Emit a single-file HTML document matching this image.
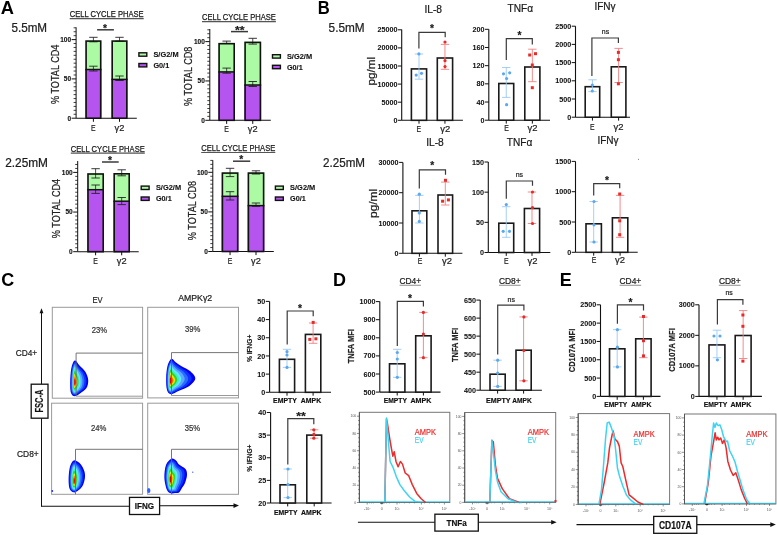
<!DOCTYPE html>
<html><head><meta charset="utf-8"><style>
html,body{margin:0;padding:0;background:#fff;width:777px;height:535px;overflow:hidden}
svg{display:block;will-change:transform}
text{font-family:"Liberation Sans", sans-serif}
</style></head><body>
<svg width="777" height="535" viewBox="0 0 777 535">
<defs><filter id="soft" x="-20%" y="-20%" width="140%" height="140%"><feGaussianBlur stdDeviation="0.35"/></filter></defs>
<rect x="0" y="0" width="777" height="535" fill="#fff"/>
<text x="0.70" y="13.90" font-size="18.5" text-anchor="start" fill="#000" font-weight="bold" textLength="13.2" lengthAdjust="spacingAndGlyphs" >A</text>
<text x="11.40" y="32.00" font-size="12.2" text-anchor="start" fill="#222" textLength="35.7" lengthAdjust="spacingAndGlyphs" stroke="#222" stroke-width="0.22" >5.5mM</text>
<text x="5.20" y="166.80" font-size="12.2" text-anchor="start" fill="#1a1a1a" textLength="42.8" lengthAdjust="spacingAndGlyphs" stroke="#1a1a1a" stroke-width="0.22" >2.25mM</text>
<text x="106.70" y="17.00" font-size="9.6" text-anchor="middle" fill="#1a1a1a" textLength="73.99999999999999" lengthAdjust="spacingAndGlyphs" stroke="#1a1a1a" stroke-width="0.25">CELL CYCLE PHASE</text>
<line x1="69.70" y1="18.60" x2="143.70" y2="18.60" stroke="#555" stroke-width="1.1" />
<line x1="76.10" y1="27.30" x2="76.10" y2="118.20" stroke="#111" stroke-width="1.0" />
<line x1="71.60" y1="118.20" x2="76.10" y2="118.20" stroke="#111" stroke-width="1.0" />
<text x="71.10" y="120.54" font-size="6.5" text-anchor="end" fill="#111" font-weight="bold" stroke="#111" stroke-width="0.12">0</text>
<line x1="71.60" y1="78.90" x2="76.10" y2="78.90" stroke="#111" stroke-width="1.0" />
<text x="71.10" y="81.24" font-size="6.5" text-anchor="end" fill="#111" font-weight="bold" stroke="#111" stroke-width="0.12">50</text>
<line x1="71.60" y1="39.60" x2="76.10" y2="39.60" stroke="#111" stroke-width="1.0" />
<text x="71.10" y="41.94" font-size="6.5" text-anchor="end" fill="#111" font-weight="bold" stroke="#111" stroke-width="0.12">100</text>
<line x1="73.60" y1="114.27" x2="76.10" y2="114.27" stroke="#111" stroke-width="0.8" />
<line x1="73.60" y1="110.34" x2="76.10" y2="110.34" stroke="#111" stroke-width="0.8" />
<line x1="73.60" y1="106.41" x2="76.10" y2="106.41" stroke="#111" stroke-width="0.8" />
<line x1="73.60" y1="102.48" x2="76.10" y2="102.48" stroke="#111" stroke-width="0.8" />
<line x1="73.60" y1="98.55" x2="76.10" y2="98.55" stroke="#111" stroke-width="0.8" />
<line x1="73.60" y1="94.62" x2="76.10" y2="94.62" stroke="#111" stroke-width="0.8" />
<line x1="73.60" y1="90.69" x2="76.10" y2="90.69" stroke="#111" stroke-width="0.8" />
<line x1="73.60" y1="86.76" x2="76.10" y2="86.76" stroke="#111" stroke-width="0.8" />
<line x1="73.60" y1="82.83" x2="76.10" y2="82.83" stroke="#111" stroke-width="0.8" />
<line x1="73.60" y1="74.97" x2="76.10" y2="74.97" stroke="#111" stroke-width="0.8" />
<line x1="73.60" y1="71.04" x2="76.10" y2="71.04" stroke="#111" stroke-width="0.8" />
<line x1="73.60" y1="67.11" x2="76.10" y2="67.11" stroke="#111" stroke-width="0.8" />
<line x1="73.60" y1="63.18" x2="76.10" y2="63.18" stroke="#111" stroke-width="0.8" />
<line x1="73.60" y1="59.25" x2="76.10" y2="59.25" stroke="#111" stroke-width="0.8" />
<line x1="73.60" y1="55.32" x2="76.10" y2="55.32" stroke="#111" stroke-width="0.8" />
<line x1="73.60" y1="51.39" x2="76.10" y2="51.39" stroke="#111" stroke-width="0.8" />
<line x1="73.60" y1="47.46" x2="76.10" y2="47.46" stroke="#111" stroke-width="0.8" />
<line x1="73.60" y1="43.53" x2="76.10" y2="43.53" stroke="#111" stroke-width="0.8" />
<line x1="73.60" y1="35.67" x2="76.10" y2="35.67" stroke="#111" stroke-width="0.8" />
<line x1="73.60" y1="31.74" x2="76.10" y2="31.74" stroke="#111" stroke-width="0.8" />
<line x1="73.60" y1="27.81" x2="76.10" y2="27.81" stroke="#111" stroke-width="0.8" />
<line x1="76.10" y1="118.20" x2="136.80" y2="118.20" stroke="#111" stroke-width="1.1" />
<rect x="85.30" y="69.50" width="16.20" height="48.70" fill="#b554ee" stroke="none" stroke-width="1.0" />
<rect x="85.30" y="40.30" width="16.20" height="29.20" fill="#adfaa5" stroke="none" stroke-width="1.0" />
<line x1="93.40" y1="37.30" x2="93.40" y2="41.80" stroke="#222" stroke-width="0.8" />
<line x1="89.20" y1="37.30" x2="97.60" y2="37.30" stroke="#222" stroke-width="0.9" />
<line x1="89.20" y1="41.80" x2="97.60" y2="41.80" stroke="#222" stroke-width="0.9" />
<line x1="93.40" y1="66.20" x2="93.40" y2="71.00" stroke="#222" stroke-width="0.8" />
<line x1="89.20" y1="66.20" x2="97.60" y2="66.20" stroke="#222" stroke-width="0.9" />
<line x1="89.20" y1="71.00" x2="97.60" y2="71.00" stroke="#222" stroke-width="0.9" />
<line x1="85.30" y1="69.50" x2="101.50" y2="69.50" stroke="#111" stroke-width="1.5" />
<rect x="86.10" y="41.10" width="14.60" height="77.10" fill="none" stroke="#111" stroke-width="1.6" />
<line x1="93.40" y1="118.20" x2="93.40" y2="121.80" stroke="#111" stroke-width="1" />
<text x="93.40" y="130.50" font-size="9.2" text-anchor="middle" fill="#222" textLength="4.6" lengthAdjust="spacingAndGlyphs" stroke="#222" stroke-width="0.22" >E</text>
<rect x="111.40" y="79.40" width="16.20" height="38.80" fill="#b554ee" stroke="none" stroke-width="1.0" />
<rect x="111.40" y="40.30" width="16.20" height="39.10" fill="#adfaa5" stroke="none" stroke-width="1.0" />
<line x1="119.50" y1="37.30" x2="119.50" y2="41.20" stroke="#222" stroke-width="0.8" />
<line x1="115.30" y1="37.30" x2="123.70" y2="37.30" stroke="#222" stroke-width="0.9" />
<line x1="115.30" y1="41.20" x2="123.70" y2="41.20" stroke="#222" stroke-width="0.9" />
<line x1="119.50" y1="76.00" x2="119.50" y2="80.50" stroke="#222" stroke-width="0.8" />
<line x1="115.30" y1="76.00" x2="123.70" y2="76.00" stroke="#222" stroke-width="0.9" />
<line x1="115.30" y1="80.50" x2="123.70" y2="80.50" stroke="#222" stroke-width="0.9" />
<line x1="111.40" y1="79.40" x2="127.60" y2="79.40" stroke="#111" stroke-width="1.5" />
<rect x="112.20" y="41.10" width="14.60" height="77.10" fill="none" stroke="#111" stroke-width="1.6" />
<line x1="119.50" y1="118.20" x2="119.50" y2="121.80" stroke="#111" stroke-width="1" />
<text x="119.50" y="130.50" font-size="9.2" text-anchor="middle" fill="#222" textLength="9.8" lengthAdjust="spacingAndGlyphs" stroke="#222" stroke-width="0.22" >γ2</text>
<text x="58.70" y="74.30" font-size="10.4" text-anchor="middle" fill="#222" textLength="59.4" lengthAdjust="spacingAndGlyphs" transform="rotate(-90 58.70 74.30)" stroke="#222" stroke-width="0.22" >% TOTAL CD4</text>
<line x1="97.10" y1="29.80" x2="113.90" y2="29.80" stroke="#3a3a3a" stroke-width="1.5" />
<text x="104.95" y="32.11" font-size="10.5" text-anchor="middle" fill="#1a1a1a" font-weight="bold" textLength="3.99" lengthAdjust="spacingAndGlyphs" stroke="#1a1a1a" stroke-width="0.18" >*</text>
<rect x="138.90" y="52.80" width="7.90" height="3.40" fill="#adfaa5" stroke="#111" stroke-width="1.4" />
<rect x="138.90" y="63.50" width="7.90" height="3.40" fill="#b554ee" stroke="#111" stroke-width="1.4" />
<text x="153.40" y="57.00" font-size="7.8" text-anchor="start" fill="#111" font-weight="bold" textLength="25.2" lengthAdjust="spacingAndGlyphs" stroke="#111" stroke-width="0.1">S/G2/M</text>
<text x="153.40" y="67.70" font-size="7.8" text-anchor="start" fill="#111" font-weight="bold" textLength="15.8" lengthAdjust="spacingAndGlyphs" stroke="#111" stroke-width="0.1">G0/1</text>
<text x="238.95" y="20.10" font-size="9.6" text-anchor="middle" fill="#1a1a1a" textLength="73.89999999999998" lengthAdjust="spacingAndGlyphs" stroke="#1a1a1a" stroke-width="0.25">CELL CYCLE PHASE</text>
<line x1="202.00" y1="21.60" x2="275.90" y2="21.60" stroke="#555" stroke-width="1.1" />
<line x1="209.80" y1="29.00" x2="209.80" y2="120.30" stroke="#111" stroke-width="1.0" />
<line x1="205.30" y1="120.30" x2="209.80" y2="120.30" stroke="#111" stroke-width="1.0" />
<text x="204.80" y="122.64" font-size="6.5" text-anchor="end" fill="#111" font-weight="bold" stroke="#111" stroke-width="0.12">0</text>
<line x1="205.30" y1="80.95" x2="209.80" y2="80.95" stroke="#111" stroke-width="1.0" />
<text x="204.80" y="83.29" font-size="6.5" text-anchor="end" fill="#111" font-weight="bold" stroke="#111" stroke-width="0.12">50</text>
<line x1="205.30" y1="41.60" x2="209.80" y2="41.60" stroke="#111" stroke-width="1.0" />
<text x="204.80" y="43.94" font-size="6.5" text-anchor="end" fill="#111" font-weight="bold" stroke="#111" stroke-width="0.12">100</text>
<line x1="207.30" y1="116.36" x2="209.80" y2="116.36" stroke="#111" stroke-width="0.8" />
<line x1="207.30" y1="112.43" x2="209.80" y2="112.43" stroke="#111" stroke-width="0.8" />
<line x1="207.30" y1="108.50" x2="209.80" y2="108.50" stroke="#111" stroke-width="0.8" />
<line x1="207.30" y1="104.56" x2="209.80" y2="104.56" stroke="#111" stroke-width="0.8" />
<line x1="207.30" y1="100.62" x2="209.80" y2="100.62" stroke="#111" stroke-width="0.8" />
<line x1="207.30" y1="96.69" x2="209.80" y2="96.69" stroke="#111" stroke-width="0.8" />
<line x1="207.30" y1="92.75" x2="209.80" y2="92.75" stroke="#111" stroke-width="0.8" />
<line x1="207.30" y1="88.82" x2="209.80" y2="88.82" stroke="#111" stroke-width="0.8" />
<line x1="207.30" y1="84.88" x2="209.80" y2="84.88" stroke="#111" stroke-width="0.8" />
<line x1="207.30" y1="77.02" x2="209.80" y2="77.02" stroke="#111" stroke-width="0.8" />
<line x1="207.30" y1="73.08" x2="209.80" y2="73.08" stroke="#111" stroke-width="0.8" />
<line x1="207.30" y1="69.15" x2="209.80" y2="69.15" stroke="#111" stroke-width="0.8" />
<line x1="207.30" y1="65.21" x2="209.80" y2="65.21" stroke="#111" stroke-width="0.8" />
<line x1="207.30" y1="61.28" x2="209.80" y2="61.28" stroke="#111" stroke-width="0.8" />
<line x1="207.30" y1="57.34" x2="209.80" y2="57.34" stroke="#111" stroke-width="0.8" />
<line x1="207.30" y1="53.41" x2="209.80" y2="53.41" stroke="#111" stroke-width="0.8" />
<line x1="207.30" y1="49.47" x2="209.80" y2="49.47" stroke="#111" stroke-width="0.8" />
<line x1="207.30" y1="45.54" x2="209.80" y2="45.54" stroke="#111" stroke-width="0.8" />
<line x1="207.30" y1="37.67" x2="209.80" y2="37.67" stroke="#111" stroke-width="0.8" />
<line x1="207.30" y1="33.73" x2="209.80" y2="33.73" stroke="#111" stroke-width="0.8" />
<line x1="207.30" y1="29.80" x2="209.80" y2="29.80" stroke="#111" stroke-width="0.8" />
<line x1="209.80" y1="120.30" x2="270.80" y2="120.30" stroke="#111" stroke-width="1.1" />
<rect x="218.30" y="71.90" width="16.70" height="48.40" fill="#b554ee" stroke="none" stroke-width="1.0" />
<rect x="218.30" y="42.90" width="16.70" height="29.00" fill="#adfaa5" stroke="none" stroke-width="1.0" />
<line x1="226.65" y1="41.10" x2="226.65" y2="43.40" stroke="#222" stroke-width="0.8" />
<line x1="222.45" y1="41.10" x2="230.85" y2="41.10" stroke="#222" stroke-width="0.9" />
<line x1="222.45" y1="43.40" x2="230.85" y2="43.40" stroke="#222" stroke-width="0.9" />
<line x1="226.65" y1="68.10" x2="226.65" y2="73.20" stroke="#222" stroke-width="0.8" />
<line x1="222.45" y1="68.10" x2="230.85" y2="68.10" stroke="#222" stroke-width="0.9" />
<line x1="222.45" y1="73.20" x2="230.85" y2="73.20" stroke="#222" stroke-width="0.9" />
<line x1="218.30" y1="71.90" x2="235.00" y2="71.90" stroke="#111" stroke-width="1.5" />
<rect x="219.10" y="43.70" width="15.10" height="76.60" fill="none" stroke="#111" stroke-width="1.6" />
<line x1="226.65" y1="120.30" x2="226.65" y2="123.90" stroke="#111" stroke-width="1" />
<text x="226.65" y="132.20" font-size="9.2" text-anchor="middle" fill="#222" textLength="4.6" lengthAdjust="spacingAndGlyphs" stroke="#222" stroke-width="0.22" >E</text>
<rect x="244.30" y="85.00" width="16.90" height="35.30" fill="#b554ee" stroke="none" stroke-width="1.0" />
<rect x="244.30" y="41.60" width="16.90" height="43.40" fill="#adfaa5" stroke="none" stroke-width="1.0" />
<line x1="252.75" y1="38.30" x2="252.75" y2="44.10" stroke="#222" stroke-width="0.8" />
<line x1="248.55" y1="38.30" x2="256.95" y2="38.30" stroke="#222" stroke-width="0.9" />
<line x1="248.55" y1="44.10" x2="256.95" y2="44.10" stroke="#222" stroke-width="0.9" />
<line x1="252.75" y1="81.50" x2="252.75" y2="86.50" stroke="#222" stroke-width="0.8" />
<line x1="248.55" y1="81.50" x2="256.95" y2="81.50" stroke="#222" stroke-width="0.9" />
<line x1="248.55" y1="86.50" x2="256.95" y2="86.50" stroke="#222" stroke-width="0.9" />
<line x1="244.30" y1="85.00" x2="261.20" y2="85.00" stroke="#111" stroke-width="1.5" />
<rect x="245.10" y="42.40" width="15.30" height="77.90" fill="none" stroke="#111" stroke-width="1.6" />
<line x1="252.75" y1="120.30" x2="252.75" y2="123.90" stroke="#111" stroke-width="1" />
<text x="252.75" y="132.20" font-size="9.2" text-anchor="middle" fill="#222" textLength="9.8" lengthAdjust="spacingAndGlyphs" stroke="#222" stroke-width="0.22" >γ2</text>
<text x="192.30" y="76.30" font-size="10.4" text-anchor="middle" fill="#222" textLength="59.4" lengthAdjust="spacingAndGlyphs" transform="rotate(-90 192.30 76.30)" stroke="#222" stroke-width="0.22" >% TOTAL CD8</text>
<line x1="231.00" y1="31.60" x2="248.00" y2="31.60" stroke="#3a3a3a" stroke-width="1.5" />
<text x="239.70" y="34.26" font-size="10.5" text-anchor="middle" fill="#1a1a1a" font-weight="bold" textLength="9.58" lengthAdjust="spacingAndGlyphs" stroke="#1a1a1a" stroke-width="0.18" >**</text>
<rect x="272.50" y="54.70" width="7.90" height="3.40" fill="#adfaa5" stroke="#111" stroke-width="1.4" />
<rect x="272.50" y="65.30" width="7.90" height="3.40" fill="#b554ee" stroke="#111" stroke-width="1.4" />
<text x="286.90" y="58.90" font-size="7.8" text-anchor="start" fill="#111" font-weight="bold" textLength="25.2" lengthAdjust="spacingAndGlyphs" stroke="#111" stroke-width="0.1">S/G2/M</text>
<text x="286.90" y="69.50" font-size="7.8" text-anchor="start" fill="#111" font-weight="bold" textLength="15.8" lengthAdjust="spacingAndGlyphs" stroke="#111" stroke-width="0.1">G0/1</text>
<text x="107.80" y="151.80" font-size="9.6" text-anchor="middle" fill="#1a1a1a" textLength="74.00000000000001" lengthAdjust="spacingAndGlyphs" stroke="#1a1a1a" stroke-width="0.25">CELL CYCLE PHASE</text>
<line x1="70.80" y1="153.10" x2="144.80" y2="153.10" stroke="#555" stroke-width="1.1" />
<line x1="77.70" y1="161.00" x2="77.70" y2="251.70" stroke="#111" stroke-width="1.0" />
<line x1="73.20" y1="251.70" x2="77.70" y2="251.70" stroke="#111" stroke-width="1.0" />
<text x="72.70" y="254.04" font-size="6.5" text-anchor="end" fill="#111" font-weight="bold" stroke="#111" stroke-width="0.12">0</text>
<line x1="73.20" y1="212.05" x2="77.70" y2="212.05" stroke="#111" stroke-width="1.0" />
<text x="72.70" y="214.39" font-size="6.5" text-anchor="end" fill="#111" font-weight="bold" stroke="#111" stroke-width="0.12">50</text>
<line x1="73.20" y1="172.40" x2="77.70" y2="172.40" stroke="#111" stroke-width="1.0" />
<text x="72.70" y="174.74" font-size="6.5" text-anchor="end" fill="#111" font-weight="bold" stroke="#111" stroke-width="0.12">100</text>
<line x1="75.20" y1="247.73" x2="77.70" y2="247.73" stroke="#111" stroke-width="0.8" />
<line x1="75.20" y1="243.77" x2="77.70" y2="243.77" stroke="#111" stroke-width="0.8" />
<line x1="75.20" y1="239.80" x2="77.70" y2="239.80" stroke="#111" stroke-width="0.8" />
<line x1="75.20" y1="235.84" x2="77.70" y2="235.84" stroke="#111" stroke-width="0.8" />
<line x1="75.20" y1="231.88" x2="77.70" y2="231.88" stroke="#111" stroke-width="0.8" />
<line x1="75.20" y1="227.91" x2="77.70" y2="227.91" stroke="#111" stroke-width="0.8" />
<line x1="75.20" y1="223.94" x2="77.70" y2="223.94" stroke="#111" stroke-width="0.8" />
<line x1="75.20" y1="219.98" x2="77.70" y2="219.98" stroke="#111" stroke-width="0.8" />
<line x1="75.20" y1="216.01" x2="77.70" y2="216.01" stroke="#111" stroke-width="0.8" />
<line x1="75.20" y1="208.09" x2="77.70" y2="208.09" stroke="#111" stroke-width="0.8" />
<line x1="75.20" y1="204.12" x2="77.70" y2="204.12" stroke="#111" stroke-width="0.8" />
<line x1="75.20" y1="200.16" x2="77.70" y2="200.16" stroke="#111" stroke-width="0.8" />
<line x1="75.20" y1="196.19" x2="77.70" y2="196.19" stroke="#111" stroke-width="0.8" />
<line x1="75.20" y1="192.22" x2="77.70" y2="192.22" stroke="#111" stroke-width="0.8" />
<line x1="75.20" y1="188.26" x2="77.70" y2="188.26" stroke="#111" stroke-width="0.8" />
<line x1="75.20" y1="184.30" x2="77.70" y2="184.30" stroke="#111" stroke-width="0.8" />
<line x1="75.20" y1="180.33" x2="77.70" y2="180.33" stroke="#111" stroke-width="0.8" />
<line x1="75.20" y1="176.37" x2="77.70" y2="176.37" stroke="#111" stroke-width="0.8" />
<line x1="75.20" y1="168.44" x2="77.70" y2="168.44" stroke="#111" stroke-width="0.8" />
<line x1="75.20" y1="164.47" x2="77.70" y2="164.47" stroke="#111" stroke-width="0.8" />
<line x1="77.70" y1="251.70" x2="138.70" y2="251.70" stroke="#111" stroke-width="1.1" />
<rect x="87.20" y="189.70" width="16.80" height="62.00" fill="#b554ee" stroke="none" stroke-width="1.0" />
<rect x="87.20" y="173.20" width="16.80" height="16.50" fill="#adfaa5" stroke="none" stroke-width="1.0" />
<line x1="95.60" y1="168.70" x2="95.60" y2="178.00" stroke="#222" stroke-width="0.8" />
<line x1="91.40" y1="168.70" x2="99.80" y2="168.70" stroke="#222" stroke-width="0.9" />
<line x1="91.40" y1="178.00" x2="99.80" y2="178.00" stroke="#222" stroke-width="0.9" />
<line x1="95.60" y1="185.00" x2="95.60" y2="193.40" stroke="#222" stroke-width="0.8" />
<line x1="91.40" y1="185.00" x2="99.80" y2="185.00" stroke="#222" stroke-width="0.9" />
<line x1="91.40" y1="193.40" x2="99.80" y2="193.40" stroke="#222" stroke-width="0.9" />
<line x1="87.20" y1="189.70" x2="104.00" y2="189.70" stroke="#111" stroke-width="1.5" />
<rect x="88.00" y="174.00" width="15.20" height="77.70" fill="none" stroke="#111" stroke-width="1.6" />
<line x1="95.60" y1="251.70" x2="95.60" y2="255.30" stroke="#111" stroke-width="1" />
<text x="95.60" y="264.20" font-size="9.2" text-anchor="middle" fill="#222" textLength="4.6" lengthAdjust="spacingAndGlyphs" stroke="#222" stroke-width="0.22" >E</text>
<rect x="113.40" y="201.20" width="16.60" height="50.50" fill="#b554ee" stroke="none" stroke-width="1.0" />
<rect x="113.40" y="173.00" width="16.60" height="28.20" fill="#adfaa5" stroke="none" stroke-width="1.0" />
<line x1="121.70" y1="169.80" x2="121.70" y2="175.80" stroke="#222" stroke-width="0.8" />
<line x1="117.50" y1="169.80" x2="125.90" y2="169.80" stroke="#222" stroke-width="0.9" />
<line x1="117.50" y1="175.80" x2="125.90" y2="175.80" stroke="#222" stroke-width="0.9" />
<line x1="121.70" y1="197.50" x2="121.70" y2="204.60" stroke="#222" stroke-width="0.8" />
<line x1="117.50" y1="197.50" x2="125.90" y2="197.50" stroke="#222" stroke-width="0.9" />
<line x1="117.50" y1="204.60" x2="125.90" y2="204.60" stroke="#222" stroke-width="0.9" />
<line x1="113.40" y1="201.20" x2="130.00" y2="201.20" stroke="#111" stroke-width="1.5" />
<rect x="114.20" y="173.80" width="15.00" height="77.90" fill="none" stroke="#111" stroke-width="1.6" />
<line x1="121.70" y1="251.70" x2="121.70" y2="255.30" stroke="#111" stroke-width="1" />
<text x="121.70" y="264.20" font-size="9.2" text-anchor="middle" fill="#222" textLength="9.8" lengthAdjust="spacingAndGlyphs" stroke="#222" stroke-width="0.22" >γ2</text>
<text x="60.30" y="208.50" font-size="10.4" text-anchor="middle" fill="#222" textLength="59.4" lengthAdjust="spacingAndGlyphs" transform="rotate(-90 60.30 208.50)" stroke="#222" stroke-width="0.22" >% TOTAL CD4</text>
<line x1="102.00" y1="162.00" x2="118.70" y2="162.00" stroke="#3a3a3a" stroke-width="1.5" />
<text x="110.00" y="164.15" font-size="10.5" text-anchor="middle" fill="#1a1a1a" font-weight="bold" textLength="3.99" lengthAdjust="spacingAndGlyphs" stroke="#1a1a1a" stroke-width="0.18" >*</text>
<rect x="141.20" y="186.10" width="7.90" height="3.40" fill="#adfaa5" stroke="#111" stroke-width="1.4" />
<rect x="141.20" y="197.00" width="7.90" height="3.40" fill="#b554ee" stroke="#111" stroke-width="1.4" />
<text x="155.90" y="190.30" font-size="7.8" text-anchor="start" fill="#111" font-weight="bold" textLength="25.2" lengthAdjust="spacingAndGlyphs" stroke="#111" stroke-width="0.1">S/G2/M</text>
<text x="155.90" y="201.20" font-size="7.8" text-anchor="start" fill="#111" font-weight="bold" textLength="15.8" lengthAdjust="spacingAndGlyphs" stroke="#111" stroke-width="0.1">G0/1</text>
<text x="238.25" y="151.00" font-size="9.6" text-anchor="middle" fill="#1a1a1a" textLength="74.10000000000002" lengthAdjust="spacingAndGlyphs" stroke="#1a1a1a" stroke-width="0.25">CELL CYCLE PHASE</text>
<line x1="201.20" y1="152.50" x2="275.30" y2="152.50" stroke="#555" stroke-width="1.1" />
<line x1="212.80" y1="160.20" x2="212.80" y2="251.50" stroke="#111" stroke-width="1.0" />
<line x1="208.30" y1="251.50" x2="212.80" y2="251.50" stroke="#111" stroke-width="1.0" />
<text x="207.80" y="253.84" font-size="6.5" text-anchor="end" fill="#111" font-weight="bold" stroke="#111" stroke-width="0.12">0</text>
<line x1="208.30" y1="211.90" x2="212.80" y2="211.90" stroke="#111" stroke-width="1.0" />
<text x="207.80" y="214.24" font-size="6.5" text-anchor="end" fill="#111" font-weight="bold" stroke="#111" stroke-width="0.12">50</text>
<line x1="208.30" y1="172.30" x2="212.80" y2="172.30" stroke="#111" stroke-width="1.0" />
<text x="207.80" y="174.64" font-size="6.5" text-anchor="end" fill="#111" font-weight="bold" stroke="#111" stroke-width="0.12">100</text>
<line x1="210.30" y1="247.54" x2="212.80" y2="247.54" stroke="#111" stroke-width="0.8" />
<line x1="210.30" y1="243.58" x2="212.80" y2="243.58" stroke="#111" stroke-width="0.8" />
<line x1="210.30" y1="239.62" x2="212.80" y2="239.62" stroke="#111" stroke-width="0.8" />
<line x1="210.30" y1="235.66" x2="212.80" y2="235.66" stroke="#111" stroke-width="0.8" />
<line x1="210.30" y1="231.70" x2="212.80" y2="231.70" stroke="#111" stroke-width="0.8" />
<line x1="210.30" y1="227.74" x2="212.80" y2="227.74" stroke="#111" stroke-width="0.8" />
<line x1="210.30" y1="223.78" x2="212.80" y2="223.78" stroke="#111" stroke-width="0.8" />
<line x1="210.30" y1="219.82" x2="212.80" y2="219.82" stroke="#111" stroke-width="0.8" />
<line x1="210.30" y1="215.86" x2="212.80" y2="215.86" stroke="#111" stroke-width="0.8" />
<line x1="210.30" y1="207.94" x2="212.80" y2="207.94" stroke="#111" stroke-width="0.8" />
<line x1="210.30" y1="203.98" x2="212.80" y2="203.98" stroke="#111" stroke-width="0.8" />
<line x1="210.30" y1="200.02" x2="212.80" y2="200.02" stroke="#111" stroke-width="0.8" />
<line x1="210.30" y1="196.06" x2="212.80" y2="196.06" stroke="#111" stroke-width="0.8" />
<line x1="210.30" y1="192.10" x2="212.80" y2="192.10" stroke="#111" stroke-width="0.8" />
<line x1="210.30" y1="188.14" x2="212.80" y2="188.14" stroke="#111" stroke-width="0.8" />
<line x1="210.30" y1="184.18" x2="212.80" y2="184.18" stroke="#111" stroke-width="0.8" />
<line x1="210.30" y1="180.22" x2="212.80" y2="180.22" stroke="#111" stroke-width="0.8" />
<line x1="210.30" y1="176.26" x2="212.80" y2="176.26" stroke="#111" stroke-width="0.8" />
<line x1="210.30" y1="168.34" x2="212.80" y2="168.34" stroke="#111" stroke-width="0.8" />
<line x1="210.30" y1="164.38" x2="212.80" y2="164.38" stroke="#111" stroke-width="0.8" />
<line x1="210.30" y1="160.42" x2="212.80" y2="160.42" stroke="#111" stroke-width="0.8" />
<line x1="212.80" y1="251.50" x2="273.80" y2="251.50" stroke="#111" stroke-width="1.1" />
<rect x="221.60" y="196.30" width="16.90" height="55.20" fill="#b554ee" stroke="none" stroke-width="1.0" />
<rect x="221.60" y="172.30" width="16.90" height="24.00" fill="#adfaa5" stroke="none" stroke-width="1.0" />
<line x1="230.05" y1="168.30" x2="230.05" y2="176.60" stroke="#222" stroke-width="0.8" />
<line x1="225.85" y1="168.30" x2="234.25" y2="168.30" stroke="#222" stroke-width="0.9" />
<line x1="225.85" y1="176.60" x2="234.25" y2="176.60" stroke="#222" stroke-width="0.9" />
<line x1="230.05" y1="191.70" x2="230.05" y2="200.00" stroke="#222" stroke-width="0.8" />
<line x1="225.85" y1="191.70" x2="234.25" y2="191.70" stroke="#222" stroke-width="0.9" />
<line x1="225.85" y1="200.00" x2="234.25" y2="200.00" stroke="#222" stroke-width="0.9" />
<line x1="221.60" y1="196.30" x2="238.50" y2="196.30" stroke="#111" stroke-width="1.5" />
<rect x="222.40" y="173.10" width="15.30" height="78.40" fill="none" stroke="#111" stroke-width="1.6" />
<line x1="230.05" y1="251.50" x2="230.05" y2="255.10" stroke="#111" stroke-width="1" />
<text x="230.05" y="263.70" font-size="9.2" text-anchor="middle" fill="#222" textLength="4.6" lengthAdjust="spacingAndGlyphs" stroke="#222" stroke-width="0.22" >E</text>
<rect x="247.60" y="205.60" width="16.80" height="45.90" fill="#b554ee" stroke="none" stroke-width="1.0" />
<rect x="247.60" y="172.30" width="16.80" height="33.30" fill="#adfaa5" stroke="none" stroke-width="1.0" />
<line x1="256.00" y1="170.80" x2="256.00" y2="174.00" stroke="#222" stroke-width="0.8" />
<line x1="251.80" y1="170.80" x2="260.20" y2="170.80" stroke="#222" stroke-width="0.9" />
<line x1="251.80" y1="174.00" x2="260.20" y2="174.00" stroke="#222" stroke-width="0.9" />
<line x1="256.00" y1="203.00" x2="256.00" y2="206.30" stroke="#222" stroke-width="0.8" />
<line x1="251.80" y1="203.00" x2="260.20" y2="203.00" stroke="#222" stroke-width="0.9" />
<line x1="251.80" y1="206.30" x2="260.20" y2="206.30" stroke="#222" stroke-width="0.9" />
<line x1="247.60" y1="205.60" x2="264.40" y2="205.60" stroke="#111" stroke-width="1.5" />
<rect x="248.40" y="173.10" width="15.20" height="78.40" fill="none" stroke="#111" stroke-width="1.6" />
<line x1="256.00" y1="251.50" x2="256.00" y2="255.10" stroke="#111" stroke-width="1" />
<text x="256.00" y="263.70" font-size="9.2" text-anchor="middle" fill="#222" textLength="9.8" lengthAdjust="spacingAndGlyphs" stroke="#222" stroke-width="0.22" >γ2</text>
<text x="195.50" y="210.50" font-size="10.4" text-anchor="middle" fill="#222" textLength="59.4" lengthAdjust="spacingAndGlyphs" transform="rotate(-90 195.50 210.50)" stroke="#222" stroke-width="0.22" >% TOTAL CD8</text>
<line x1="233.00" y1="161.20" x2="250.20" y2="161.20" stroke="#3a3a3a" stroke-width="1.5" />
<text x="241.30" y="163.45" font-size="10.5" text-anchor="middle" fill="#1a1a1a" font-weight="bold" textLength="3.99" lengthAdjust="spacingAndGlyphs" stroke="#1a1a1a" stroke-width="0.18" >*</text>
<rect x="275.40" y="186.10" width="7.90" height="3.40" fill="#adfaa5" stroke="#111" stroke-width="1.4" />
<rect x="275.40" y="197.00" width="7.90" height="3.40" fill="#b554ee" stroke="#111" stroke-width="1.4" />
<text x="290.10" y="190.30" font-size="7.8" text-anchor="start" fill="#111" font-weight="bold" textLength="25.2" lengthAdjust="spacingAndGlyphs" stroke="#111" stroke-width="0.1">S/G2/M</text>
<text x="290.10" y="201.20" font-size="7.8" text-anchor="start" fill="#111" font-weight="bold" textLength="15.8" lengthAdjust="spacingAndGlyphs" stroke="#111" stroke-width="0.1">G0/1</text>
<text x="317.70" y="13.90" font-size="18.5" text-anchor="start" fill="#000" font-weight="bold" textLength="12" lengthAdjust="spacingAndGlyphs" >B</text>
<text x="328.60" y="32.00" font-size="12.2" text-anchor="start" fill="#222" textLength="36" lengthAdjust="spacingAndGlyphs" stroke="#222" stroke-width="0.22" >5.5mM</text>
<text x="323.00" y="167.00" font-size="12.2" text-anchor="start" fill="#222" textLength="42" lengthAdjust="spacingAndGlyphs" stroke="#222" stroke-width="0.22" >2.25mM</text>
<line x1="401.70" y1="29.50" x2="401.70" y2="120.30" stroke="#111" stroke-width="1.1" />
<line x1="401.70" y1="120.30" x2="462.90" y2="120.30" stroke="#111" stroke-width="1.1" />
<line x1="397.90" y1="120.30" x2="401.70" y2="120.30" stroke="#111" stroke-width="1.0" />
<text x="397.40" y="122.89" font-size="7.2" text-anchor="end" fill="#111" font-weight="bold" stroke="#111" stroke-width="0.05">0</text>
<line x1="397.90" y1="102.20" x2="401.70" y2="102.20" stroke="#111" stroke-width="1.0" />
<text x="397.40" y="104.79" font-size="7.2" text-anchor="end" fill="#111" font-weight="bold" stroke="#111" stroke-width="0.05">5000</text>
<line x1="397.90" y1="84.10" x2="401.70" y2="84.10" stroke="#111" stroke-width="1.0" />
<text x="397.40" y="86.69" font-size="7.2" text-anchor="end" fill="#111" font-weight="bold" stroke="#111" stroke-width="0.05">10000</text>
<line x1="397.90" y1="66.00" x2="401.70" y2="66.00" stroke="#111" stroke-width="1.0" />
<text x="397.40" y="68.59" font-size="7.2" text-anchor="end" fill="#111" font-weight="bold" stroke="#111" stroke-width="0.05">15000</text>
<line x1="397.90" y1="47.90" x2="401.70" y2="47.90" stroke="#111" stroke-width="1.0" />
<text x="397.40" y="50.49" font-size="7.2" text-anchor="end" fill="#111" font-weight="bold" stroke="#111" stroke-width="0.05">20000</text>
<line x1="397.90" y1="29.80" x2="401.70" y2="29.80" stroke="#111" stroke-width="1.0" />
<text x="397.40" y="32.39" font-size="7.2" text-anchor="end" fill="#111" font-weight="bold" stroke="#111" stroke-width="0.05">25000</text>
<rect x="411.40" y="68.90" width="15.20" height="51.40" fill="#fff" stroke="#1a1a1a" stroke-width="1.6" />
<line x1="419.00" y1="120.30" x2="419.00" y2="123.70" stroke="#111" stroke-width="1" />
<line x1="419.00" y1="54.00" x2="419.00" y2="79.20" stroke="#9ccaf5" stroke-width="0.9" />
<line x1="414.80" y1="54.00" x2="423.20" y2="54.00" stroke="#9ccaf5" stroke-width="0.9" />
<line x1="414.80" y1="79.20" x2="423.20" y2="79.20" stroke="#9ccaf5" stroke-width="0.9" />
<circle cx="418.90" cy="53.90" r="1.6" fill="#5aa9f0"/>
<circle cx="416.20" cy="75.10" r="1.6" fill="#5aa9f0"/>
<circle cx="421.50" cy="73.30" r="1.6" fill="#5aa9f0"/>
<rect x="437.30" y="58.00" width="15.30" height="62.30" fill="#fff" stroke="#1a1a1a" stroke-width="1.6" />
<line x1="444.95" y1="120.30" x2="444.95" y2="123.70" stroke="#111" stroke-width="1" />
<line x1="444.95" y1="44.40" x2="444.95" y2="69.30" stroke="#f08080" stroke-width="0.9" />
<line x1="440.75" y1="44.40" x2="449.15" y2="44.40" stroke="#f08080" stroke-width="0.9" />
<line x1="440.75" y1="69.30" x2="449.15" y2="69.30" stroke="#f08080" stroke-width="0.9" />
<circle cx="445.00" cy="42.10" r="1.6" fill="#e82a2a"/>
<circle cx="445.00" cy="60.70" r="1.6" fill="#e82a2a"/>
<circle cx="445.00" cy="66.60" r="1.6" fill="#e82a2a"/>
<polyline points="418.9,48.4 418.9,32.3 445.2,32.3 445.2,37.2" fill="none" stroke="#3a3a3a" stroke-width="1.2"/>
<text x="432.10" y="31.66" font-size="10.5" text-anchor="middle" fill="#1a1a1a" font-weight="bold" textLength="3.99" lengthAdjust="spacingAndGlyphs" stroke="#1a1a1a" stroke-width="0.18" >*</text>
<text x="418.70" y="131.50" font-size="9.2" text-anchor="middle" fill="#222" textLength="4.6" lengthAdjust="spacingAndGlyphs" stroke="#222" stroke-width="0.22" >E</text>
<text x="445.30" y="131.50" font-size="9.2" text-anchor="middle" fill="#222" textLength="10" lengthAdjust="spacingAndGlyphs" stroke="#222" stroke-width="0.22" >γ2</text>
<text x="433.20" y="12.90" font-size="10.7" text-anchor="middle" fill="#1a1a1a" textLength="17.6" lengthAdjust="spacingAndGlyphs" stroke="#1a1a1a" stroke-width="0.22" >IL-8</text>
<text x="375.20" y="71.20" font-size="11" text-anchor="middle" fill="#222" textLength="28.8" lengthAdjust="spacingAndGlyphs" transform="rotate(-90 375.20 71.20)" stroke="#222" stroke-width="0.22" >pg/ml</text>
<line x1="488.80" y1="29.30" x2="488.80" y2="120.20" stroke="#111" stroke-width="1.1" />
<line x1="488.80" y1="120.20" x2="550.00" y2="120.20" stroke="#111" stroke-width="1.1" />
<line x1="485.00" y1="120.20" x2="488.80" y2="120.20" stroke="#111" stroke-width="1.0" />
<text x="484.50" y="122.79" font-size="7.2" text-anchor="end" fill="#111" font-weight="bold" stroke="#111" stroke-width="0.05">0</text>
<line x1="485.00" y1="102.02" x2="488.80" y2="102.02" stroke="#111" stroke-width="1.0" />
<text x="484.50" y="104.61" font-size="7.2" text-anchor="end" fill="#111" font-weight="bold" stroke="#111" stroke-width="0.05">40</text>
<line x1="485.00" y1="83.84" x2="488.80" y2="83.84" stroke="#111" stroke-width="1.0" />
<text x="484.50" y="86.43" font-size="7.2" text-anchor="end" fill="#111" font-weight="bold" stroke="#111" stroke-width="0.05">80</text>
<line x1="485.00" y1="65.66" x2="488.80" y2="65.66" stroke="#111" stroke-width="1.0" />
<text x="484.50" y="68.25" font-size="7.2" text-anchor="end" fill="#111" font-weight="bold" stroke="#111" stroke-width="0.05">120</text>
<line x1="485.00" y1="47.48" x2="488.80" y2="47.48" stroke="#111" stroke-width="1.0" />
<text x="484.50" y="50.07" font-size="7.2" text-anchor="end" fill="#111" font-weight="bold" stroke="#111" stroke-width="0.05">160</text>
<line x1="485.00" y1="29.30" x2="488.80" y2="29.30" stroke="#111" stroke-width="1.0" />
<text x="484.50" y="31.89" font-size="7.2" text-anchor="end" fill="#111" font-weight="bold" stroke="#111" stroke-width="0.05">200</text>
<rect x="498.80" y="83.50" width="14.90" height="36.70" fill="#fff" stroke="#1a1a1a" stroke-width="1.6" />
<line x1="506.25" y1="120.20" x2="506.25" y2="123.60" stroke="#111" stroke-width="1" />
<line x1="506.25" y1="67.50" x2="506.25" y2="97.40" stroke="#9ccaf5" stroke-width="0.9" />
<line x1="502.05" y1="67.50" x2="510.45" y2="67.50" stroke="#9ccaf5" stroke-width="0.9" />
<line x1="502.05" y1="97.40" x2="510.45" y2="97.40" stroke="#9ccaf5" stroke-width="0.9" />
<circle cx="503.50" cy="73.80" r="1.6" fill="#5aa9f0"/>
<circle cx="509.70" cy="72.80" r="1.6" fill="#5aa9f0"/>
<circle cx="506.60" cy="78.50" r="1.6" fill="#5aa9f0"/>
<circle cx="506.60" cy="104.70" r="1.6" fill="#5aa9f0"/>
<rect x="524.80" y="67.00" width="15.10" height="53.20" fill="#fff" stroke="#1a1a1a" stroke-width="1.6" />
<line x1="532.35" y1="120.20" x2="532.35" y2="123.60" stroke="#111" stroke-width="1" />
<line x1="532.35" y1="49.20" x2="532.35" y2="81.70" stroke="#f08080" stroke-width="0.9" />
<line x1="528.15" y1="49.20" x2="536.55" y2="49.20" stroke="#f08080" stroke-width="0.9" />
<line x1="528.15" y1="81.70" x2="536.55" y2="81.70" stroke="#f08080" stroke-width="0.9" />
<rect x="528.20" y="53.50" width="3.00" height="3.00" fill="#e82a2a" stroke="none" stroke-width="1.0" />
<rect x="534.00" y="52.20" width="3.00" height="3.00" fill="#e82a2a" stroke="none" stroke-width="1.0" />
<rect x="530.80" y="63.50" width="3.00" height="3.00" fill="#e82a2a" stroke="none" stroke-width="1.0" />
<rect x="530.80" y="86.20" width="3.00" height="3.00" fill="#e82a2a" stroke="none" stroke-width="1.0" />
<polyline points="506.3,60 506.3,38.7 532.3,38.7 532.3,44.5" fill="none" stroke="#3a3a3a" stroke-width="1.2"/>
<text x="519.60" y="39.06" font-size="10.5" text-anchor="middle" fill="#1a1a1a" font-weight="bold" textLength="3.99" lengthAdjust="spacingAndGlyphs" stroke="#1a1a1a" stroke-width="0.18" >*</text>
<text x="506.60" y="130.50" font-size="9.2" text-anchor="middle" fill="#222" textLength="4.6" lengthAdjust="spacingAndGlyphs" stroke="#222" stroke-width="0.22" >E</text>
<text x="532.50" y="130.50" font-size="9.2" text-anchor="middle" fill="#222" textLength="10" lengthAdjust="spacingAndGlyphs" stroke="#222" stroke-width="0.22" >γ2</text>
<text x="520.30" y="11.85" font-size="10.7" text-anchor="middle" fill="#1a1a1a" textLength="25.5" lengthAdjust="spacingAndGlyphs" stroke="#1a1a1a" stroke-width="0.22" >TNFα</text>
<line x1="575.50" y1="26.20" x2="575.50" y2="117.20" stroke="#111" stroke-width="1.1" />
<line x1="575.50" y1="117.20" x2="630.00" y2="117.20" stroke="#111" stroke-width="1.1" />
<line x1="571.70" y1="117.20" x2="575.50" y2="117.20" stroke="#111" stroke-width="1.0" />
<text x="571.20" y="119.79" font-size="7.2" text-anchor="end" fill="#111" font-weight="bold" stroke="#111" stroke-width="0.05">0</text>
<line x1="571.70" y1="99.00" x2="575.50" y2="99.00" stroke="#111" stroke-width="1.0" />
<text x="571.20" y="101.59" font-size="7.2" text-anchor="end" fill="#111" font-weight="bold" stroke="#111" stroke-width="0.05">500</text>
<line x1="571.70" y1="80.80" x2="575.50" y2="80.80" stroke="#111" stroke-width="1.0" />
<text x="571.20" y="83.39" font-size="7.2" text-anchor="end" fill="#111" font-weight="bold" stroke="#111" stroke-width="0.05">1000</text>
<line x1="571.70" y1="62.60" x2="575.50" y2="62.60" stroke="#111" stroke-width="1.0" />
<text x="571.20" y="65.19" font-size="7.2" text-anchor="end" fill="#111" font-weight="bold" stroke="#111" stroke-width="0.05">1500</text>
<line x1="571.70" y1="44.40" x2="575.50" y2="44.40" stroke="#111" stroke-width="1.0" />
<text x="571.20" y="46.99" font-size="7.2" text-anchor="end" fill="#111" font-weight="bold" stroke="#111" stroke-width="0.05">2000</text>
<line x1="571.70" y1="26.20" x2="575.50" y2="26.20" stroke="#111" stroke-width="1.0" />
<text x="571.20" y="28.79" font-size="7.2" text-anchor="end" fill="#111" font-weight="bold" stroke="#111" stroke-width="0.05">2500</text>
<rect x="585.20" y="86.70" width="14.50" height="30.50" fill="#fff" stroke="#1a1a1a" stroke-width="1.6" />
<line x1="592.45" y1="117.20" x2="592.45" y2="120.60" stroke="#111" stroke-width="1" />
<line x1="592.45" y1="79.80" x2="592.45" y2="91.60" stroke="#9ccaf5" stroke-width="0.9" />
<line x1="588.25" y1="79.80" x2="596.65" y2="79.80" stroke="#9ccaf5" stroke-width="0.9" />
<line x1="588.25" y1="91.60" x2="596.65" y2="91.60" stroke="#9ccaf5" stroke-width="0.9" />
<circle cx="592.30" cy="85.00" r="1.6" fill="#5aa9f0"/>
<circle cx="592.30" cy="91.00" r="1.6" fill="#5aa9f0"/>
<rect x="611.30" y="66.80" width="14.60" height="50.40" fill="#fff" stroke="#1a1a1a" stroke-width="1.6" />
<line x1="618.60" y1="117.20" x2="618.60" y2="120.60" stroke="#111" stroke-width="1" />
<line x1="618.60" y1="48.40" x2="618.60" y2="82.50" stroke="#f08080" stroke-width="0.9" />
<line x1="614.40" y1="48.40" x2="622.80" y2="48.40" stroke="#f08080" stroke-width="0.9" />
<line x1="614.40" y1="82.50" x2="622.80" y2="82.50" stroke="#f08080" stroke-width="0.9" />
<rect x="616.90" y="50.90" width="3.00" height="3.00" fill="#e82a2a" stroke="none" stroke-width="1.0" />
<rect x="616.90" y="58.20" width="3.00" height="3.00" fill="#e82a2a" stroke="none" stroke-width="1.0" />
<rect x="616.90" y="82.30" width="3.00" height="3.00" fill="#e82a2a" stroke="none" stroke-width="1.0" />
<polyline points="591.9,76 591.9,38 618.4,38 618.4,43" fill="none" stroke="#3a3a3a" stroke-width="1.2"/>
<text x="605.50" y="33.90" font-size="7.5" text-anchor="middle" fill="#222" textLength="7.3" lengthAdjust="spacingAndGlyphs" stroke="#222" stroke-width="0.22" >ns</text>
<text x="592.30" y="130.00" font-size="9.2" text-anchor="middle" fill="#222" textLength="4.6" lengthAdjust="spacingAndGlyphs" stroke="#222" stroke-width="0.22" >E</text>
<text x="618.50" y="130.00" font-size="9.2" text-anchor="middle" fill="#222" textLength="10" lengthAdjust="spacingAndGlyphs" stroke="#222" stroke-width="0.22" >γ2</text>
<text x="605.00" y="10.00" font-size="10.4" text-anchor="middle" fill="#1a1a1a" textLength="21.2" lengthAdjust="spacingAndGlyphs" stroke="#1a1a1a" stroke-width="0.22" >IFNγ</text>
<line x1="402.90" y1="162.40" x2="402.90" y2="253.30" stroke="#111" stroke-width="1.1" />
<line x1="402.90" y1="253.30" x2="462.40" y2="253.30" stroke="#111" stroke-width="1.1" />
<line x1="399.10" y1="253.30" x2="402.90" y2="253.30" stroke="#111" stroke-width="1.0" />
<text x="398.60" y="255.89" font-size="7.2" text-anchor="end" fill="#111" font-weight="bold" stroke="#111" stroke-width="0.05">0</text>
<line x1="399.10" y1="223.00" x2="402.90" y2="223.00" stroke="#111" stroke-width="1.0" />
<text x="398.60" y="225.59" font-size="7.2" text-anchor="end" fill="#111" font-weight="bold" stroke="#111" stroke-width="0.05">10000</text>
<line x1="399.10" y1="192.70" x2="402.90" y2="192.70" stroke="#111" stroke-width="1.0" />
<text x="398.60" y="195.29" font-size="7.2" text-anchor="end" fill="#111" font-weight="bold" stroke="#111" stroke-width="0.05">20000</text>
<line x1="399.10" y1="162.40" x2="402.90" y2="162.40" stroke="#111" stroke-width="1.0" />
<text x="398.60" y="164.99" font-size="7.2" text-anchor="end" fill="#111" font-weight="bold" stroke="#111" stroke-width="0.05">30000</text>
<rect x="412.00" y="210.80" width="14.80" height="42.50" fill="#fff" stroke="#1a1a1a" stroke-width="1.6" />
<line x1="419.40" y1="253.30" x2="419.40" y2="256.70" stroke="#111" stroke-width="1" />
<line x1="419.40" y1="195.40" x2="419.40" y2="223.00" stroke="#9ccaf5" stroke-width="0.9" />
<line x1="415.20" y1="195.40" x2="423.60" y2="195.40" stroke="#9ccaf5" stroke-width="0.9" />
<line x1="415.20" y1="223.00" x2="423.60" y2="223.00" stroke="#9ccaf5" stroke-width="0.9" />
<circle cx="419.30" cy="194.20" r="1.6" fill="#5aa9f0"/>
<circle cx="419.30" cy="212.90" r="1.6" fill="#5aa9f0"/>
<circle cx="419.30" cy="221.40" r="1.6" fill="#5aa9f0"/>
<rect x="438.00" y="195.00" width="14.60" height="58.30" fill="#fff" stroke="#1a1a1a" stroke-width="1.6" />
<line x1="445.30" y1="253.30" x2="445.30" y2="256.70" stroke="#111" stroke-width="1" />
<line x1="445.30" y1="182.10" x2="445.30" y2="205.00" stroke="#f08080" stroke-width="0.9" />
<line x1="441.10" y1="182.10" x2="449.50" y2="182.10" stroke="#f08080" stroke-width="0.9" />
<line x1="441.10" y1="205.00" x2="449.50" y2="205.00" stroke="#f08080" stroke-width="0.9" />
<rect x="444.00" y="178.80" width="3.00" height="3.00" fill="#e82a2a" stroke="none" stroke-width="1.0" />
<rect x="441.10" y="199.70" width="3.00" height="3.00" fill="#e82a2a" stroke="none" stroke-width="1.0" />
<rect x="446.90" y="198.40" width="3.00" height="3.00" fill="#e82a2a" stroke="none" stroke-width="1.0" />
<polyline points="419.3,188.6 419.3,169.8 445.5,169.8 445.5,174.7" fill="none" stroke="#3a3a3a" stroke-width="1.2"/>
<text x="432.30" y="169.45" font-size="10.5" text-anchor="middle" fill="#1a1a1a" font-weight="bold" textLength="3.99" lengthAdjust="spacingAndGlyphs" stroke="#1a1a1a" stroke-width="0.18" >*</text>
<text x="420.00" y="264.00" font-size="9.2" text-anchor="middle" fill="#222" textLength="4.6" lengthAdjust="spacingAndGlyphs" stroke="#222" stroke-width="0.22" >E</text>
<text x="447.00" y="264.00" font-size="9.2" text-anchor="middle" fill="#222" textLength="10" lengthAdjust="spacingAndGlyphs" stroke="#222" stroke-width="0.22" >γ2</text>
<text x="435.00" y="145.70" font-size="10.7" text-anchor="middle" fill="#1a1a1a" textLength="17.6" lengthAdjust="spacingAndGlyphs" stroke="#1a1a1a" stroke-width="0.22" >IL-8</text>
<text x="376.80" y="203.40" font-size="11" text-anchor="middle" fill="#222" textLength="29.2" lengthAdjust="spacingAndGlyphs" transform="rotate(-90 376.80 203.40)" stroke="#222" stroke-width="0.22" >pg/ml</text>
<line x1="488.30" y1="162.00" x2="488.30" y2="252.50" stroke="#111" stroke-width="1.1" />
<line x1="488.30" y1="252.50" x2="550.30" y2="252.50" stroke="#111" stroke-width="1.1" />
<line x1="484.50" y1="252.50" x2="488.30" y2="252.50" stroke="#111" stroke-width="1.0" />
<text x="484.00" y="255.09" font-size="7.2" text-anchor="end" fill="#111" font-weight="bold" stroke="#111" stroke-width="0.05">0</text>
<line x1="484.50" y1="222.33" x2="488.30" y2="222.33" stroke="#111" stroke-width="1.0" />
<text x="484.00" y="224.93" font-size="7.2" text-anchor="end" fill="#111" font-weight="bold" stroke="#111" stroke-width="0.05">50</text>
<line x1="484.50" y1="192.17" x2="488.30" y2="192.17" stroke="#111" stroke-width="1.0" />
<text x="484.00" y="194.76" font-size="7.2" text-anchor="end" fill="#111" font-weight="bold" stroke="#111" stroke-width="0.05">100</text>
<line x1="484.50" y1="162.00" x2="488.30" y2="162.00" stroke="#111" stroke-width="1.0" />
<text x="484.00" y="164.59" font-size="7.2" text-anchor="end" fill="#111" font-weight="bold" stroke="#111" stroke-width="0.05">150</text>
<rect x="498.80" y="223.20" width="14.90" height="29.30" fill="#fff" stroke="#1a1a1a" stroke-width="1.6" />
<line x1="506.25" y1="252.50" x2="506.25" y2="255.90" stroke="#111" stroke-width="1" />
<line x1="506.25" y1="206.70" x2="506.25" y2="237.30" stroke="#9ccaf5" stroke-width="0.9" />
<line x1="502.05" y1="206.70" x2="510.45" y2="206.70" stroke="#9ccaf5" stroke-width="0.9" />
<line x1="502.05" y1="237.30" x2="510.45" y2="237.30" stroke="#9ccaf5" stroke-width="0.9" />
<circle cx="506.30" cy="204.60" r="1.6" fill="#5aa9f0"/>
<circle cx="503.20" cy="231.30" r="1.6" fill="#5aa9f0"/>
<circle cx="509.50" cy="231.30" r="1.6" fill="#5aa9f0"/>
<rect x="524.40" y="208.50" width="15.20" height="44.00" fill="#fff" stroke="#1a1a1a" stroke-width="1.6" />
<line x1="532.00" y1="252.50" x2="532.00" y2="255.90" stroke="#111" stroke-width="1" />
<line x1="532.00" y1="192.00" x2="532.00" y2="223.50" stroke="#f08080" stroke-width="0.9" />
<line x1="527.80" y1="192.00" x2="536.20" y2="192.00" stroke="#f08080" stroke-width="0.9" />
<line x1="527.80" y1="223.50" x2="536.20" y2="223.50" stroke="#f08080" stroke-width="0.9" />
<circle cx="532.50" cy="192.00" r="1.6" fill="#e82a2a"/>
<circle cx="532.50" cy="207.70" r="1.6" fill="#e82a2a"/>
<circle cx="532.50" cy="223.50" r="1.6" fill="#e82a2a"/>
<polyline points="506.3,198.8 506.3,181 532.5,181 532.5,185.8" fill="none" stroke="#3a3a3a" stroke-width="1.2"/>
<text x="519.40" y="177.20" font-size="7.5" text-anchor="middle" fill="#222" textLength="7.3" lengthAdjust="spacingAndGlyphs" stroke="#222" stroke-width="0.22" >ns</text>
<text x="506.30" y="264.00" font-size="9.2" text-anchor="middle" fill="#222" textLength="4.6" lengthAdjust="spacingAndGlyphs" stroke="#222" stroke-width="0.22" >E</text>
<text x="532.50" y="264.00" font-size="9.2" text-anchor="middle" fill="#222" textLength="10" lengthAdjust="spacingAndGlyphs" stroke="#222" stroke-width="0.22" >γ2</text>
<text x="519.60" y="145.90" font-size="10.7" text-anchor="middle" fill="#1a1a1a" textLength="25.5" lengthAdjust="spacingAndGlyphs" stroke="#1a1a1a" stroke-width="0.22" >TNFα</text>
<line x1="575.50" y1="161.40" x2="575.50" y2="252.30" stroke="#111" stroke-width="1.1" />
<line x1="575.50" y1="252.30" x2="637.70" y2="252.30" stroke="#111" stroke-width="1.1" />
<line x1="571.70" y1="252.30" x2="575.50" y2="252.30" stroke="#111" stroke-width="1.0" />
<text x="571.20" y="254.89" font-size="7.2" text-anchor="end" fill="#111" font-weight="bold" stroke="#111" stroke-width="0.05">0</text>
<line x1="571.70" y1="222.00" x2="575.50" y2="222.00" stroke="#111" stroke-width="1.0" />
<text x="571.20" y="224.59" font-size="7.2" text-anchor="end" fill="#111" font-weight="bold" stroke="#111" stroke-width="0.05">500</text>
<line x1="571.70" y1="191.70" x2="575.50" y2="191.70" stroke="#111" stroke-width="1.0" />
<text x="571.20" y="194.29" font-size="7.2" text-anchor="end" fill="#111" font-weight="bold" stroke="#111" stroke-width="0.05">1000</text>
<line x1="571.70" y1="161.40" x2="575.50" y2="161.40" stroke="#111" stroke-width="1.0" />
<text x="571.20" y="163.99" font-size="7.2" text-anchor="end" fill="#111" font-weight="bold" stroke="#111" stroke-width="0.05">1500</text>
<rect x="586.00" y="223.80" width="15.40" height="28.50" fill="#fff" stroke="#1a1a1a" stroke-width="1.6" />
<line x1="593.70" y1="252.30" x2="593.70" y2="255.70" stroke="#111" stroke-width="1" />
<line x1="593.70" y1="201.50" x2="593.70" y2="242.00" stroke="#9ccaf5" stroke-width="0.9" />
<line x1="589.50" y1="201.50" x2="597.90" y2="201.50" stroke="#9ccaf5" stroke-width="0.9" />
<line x1="589.50" y1="242.00" x2="597.90" y2="242.00" stroke="#9ccaf5" stroke-width="0.9" />
<circle cx="594.00" cy="201.50" r="1.6" fill="#5aa9f0"/>
<circle cx="594.00" cy="224.80" r="1.6" fill="#5aa9f0"/>
<circle cx="594.00" cy="242.00" r="1.6" fill="#5aa9f0"/>
<rect x="612.40" y="217.80" width="15.40" height="34.50" fill="#fff" stroke="#1a1a1a" stroke-width="1.6" />
<line x1="620.10" y1="252.30" x2="620.10" y2="255.70" stroke="#111" stroke-width="1" />
<line x1="620.10" y1="195.40" x2="620.10" y2="237.30" stroke="#f08080" stroke-width="0.9" />
<line x1="615.90" y1="195.40" x2="624.30" y2="195.40" stroke="#f08080" stroke-width="0.9" />
<line x1="615.90" y1="237.30" x2="624.30" y2="237.30" stroke="#f08080" stroke-width="0.9" />
<rect x="618.20" y="192.50" width="3.00" height="3.00" fill="#e82a2a" stroke="none" stroke-width="1.0" />
<rect x="618.20" y="219.30" width="3.00" height="3.00" fill="#e82a2a" stroke="none" stroke-width="1.0" />
<rect x="618.20" y="233.20" width="3.00" height="3.00" fill="#e82a2a" stroke="none" stroke-width="1.0" />
<polyline points="593.7,195.4 593.7,183.7 619.7,183.7 619.7,188.3" fill="none" stroke="#3a3a3a" stroke-width="1.2"/>
<text x="606.90" y="183.55" font-size="10.5" text-anchor="middle" fill="#1a1a1a" font-weight="bold" textLength="3.99" lengthAdjust="spacingAndGlyphs" stroke="#1a1a1a" stroke-width="0.18" >*</text>
<text x="594.00" y="263.00" font-size="9.2" text-anchor="middle" fill="#222" textLength="4.6" lengthAdjust="spacingAndGlyphs" stroke="#222" stroke-width="0.22" >E</text>
<text x="620.00" y="263.00" font-size="9.2" text-anchor="middle" fill="#222" textLength="10" lengthAdjust="spacingAndGlyphs" stroke="#222" stroke-width="0.22" >γ2</text>
<text x="608.00" y="144.40" font-size="10.4" text-anchor="middle" fill="#1a1a1a" textLength="21.2" lengthAdjust="spacingAndGlyphs" stroke="#1a1a1a" stroke-width="0.22" >IFNγ</text>
<circle cx="638.5" cy="159.3" r="0.5" fill="#555"/>
<text x="1.20" y="285.80" font-size="18.5" text-anchor="start" fill="#000" font-weight="bold" textLength="13" lengthAdjust="spacingAndGlyphs" >C</text>
<text x="97.60" y="303.10" font-size="8.8" text-anchor="middle" fill="#222" textLength="10.1" lengthAdjust="spacingAndGlyphs" stroke="#222" stroke-width="0.22" >EV</text>
<text x="195.20" y="301.30" font-size="8.8" text-anchor="middle" fill="#222" textLength="34" lengthAdjust="spacingAndGlyphs" stroke="#222" stroke-width="0.22" >AMPKγ2</text>
<text x="26.40" y="355.60" font-size="9.7" text-anchor="middle" fill="#222" textLength="21.5" lengthAdjust="spacingAndGlyphs" stroke="#222" stroke-width="0.22" >CD4+</text>
<text x="27.90" y="456.60" font-size="9.7" text-anchor="middle" fill="#222" textLength="21.7" lengthAdjust="spacingAndGlyphs" stroke="#222" stroke-width="0.22" >CD8+</text>
<rect x="52.30" y="307.30" width="90.30" height="90.90" fill="none" stroke="#9a9a9a" stroke-width="1.0" />
<g filter="url(#soft)">
<path d="M75.20,360.50 C76.37,360.75 77.78,363.58 79.50,365.50 C81.22,367.42 84.05,369.58 85.50,372.00 C86.95,374.42 88.03,377.33 88.20,380.00 C88.37,382.67 87.87,385.75 86.50,388.00 C85.13,390.25 81.98,392.12 80.00,393.50 C78.02,394.88 76.10,396.38 74.60,396.30 C73.10,396.22 71.73,395.05 71.00,393.00 C70.27,390.95 70.23,387.50 70.20,384.00 C70.17,380.50 70.42,375.33 70.80,372.00 C71.18,368.67 71.77,365.92 72.50,364.00 C73.23,362.08 74.03,360.25 75.20,360.50 Z" fill="#0000f5"/>
<path d="M75.12,362.04 C76.12,362.27 77.34,364.91 78.81,366.69 C80.29,368.47 82.73,370.49 83.97,372.74 C85.22,374.98 86.15,377.69 86.30,380.18 C86.44,382.66 86.01,385.52 84.83,387.62 C83.66,389.71 80.95,391.44 79.24,392.73 C77.54,394.02 75.89,395.41 74.60,395.33 C73.31,395.26 72.13,394.17 71.50,392.26 C70.87,390.36 70.84,387.15 70.82,383.89 C70.79,380.64 71.00,375.84 71.33,372.74 C71.66,369.63 72.16,367.08 72.79,365.30 C73.42,363.51 74.11,361.81 75.12,362.04 Z" fill="#0a30ff"/>
<path d="M75.03,363.58 C75.87,363.79 76.89,366.23 78.13,367.88 C79.36,369.53 81.40,371.39 82.45,373.47 C83.49,375.55 84.27,378.06 84.39,380.35 C84.51,382.64 84.15,385.30 83.17,387.23 C82.18,389.17 79.92,390.77 78.49,391.96 C77.06,393.15 75.68,394.44 74.60,394.37 C73.52,394.30 72.54,393.29 72.01,391.53 C71.48,389.77 71.46,386.80 71.43,383.79 C71.41,380.78 71.59,376.34 71.86,373.47 C72.14,370.60 72.56,368.24 73.09,366.59 C73.62,364.94 74.19,363.37 75.03,363.58 Z" fill="#2a6cff"/>
<path d="M74.95,364.90 C75.62,365.10 76.45,367.37 77.44,368.90 C78.44,370.43 80.08,372.17 80.92,374.10 C81.76,376.03 82.39,378.37 82.49,380.50 C82.58,382.63 82.29,385.10 81.50,386.90 C80.71,388.70 78.88,390.19 77.73,391.30 C76.58,392.41 75.47,393.61 74.60,393.54 C73.73,393.47 72.94,392.54 72.51,390.90 C72.09,389.26 72.07,386.50 72.05,383.70 C72.03,380.90 72.17,376.77 72.40,374.10 C72.62,371.43 72.96,369.23 73.38,367.70 C73.81,366.17 74.27,364.70 74.95,364.90 Z" fill="#5aa8ff"/>
<path d="M74.86,366.66 C75.38,366.84 76.00,368.88 76.76,370.26 C77.51,371.64 78.76,373.20 79.40,374.94 C80.03,376.68 80.51,378.78 80.58,380.70 C80.66,382.62 80.44,384.84 79.84,386.46 C79.23,388.08 77.85,389.42 76.98,390.42 C76.10,391.42 75.26,392.50 74.60,392.44 C73.94,392.38 73.34,391.54 73.02,390.06 C72.69,388.58 72.68,386.10 72.66,383.58 C72.65,381.06 72.76,377.34 72.93,374.94 C73.10,372.54 73.35,370.56 73.68,369.18 C74.00,367.80 74.35,366.48 74.86,366.66 Z" fill="#60e8ff"/>
<path d="M74.82,368.86 C75.24,369.01 75.75,370.77 76.36,371.96 C76.98,373.15 78.00,374.49 78.52,375.99 C79.05,377.49 79.44,379.30 79.50,380.95 C79.56,382.60 79.38,384.52 78.88,385.91 C78.39,387.31 77.26,388.46 76.54,389.32 C75.83,390.18 75.14,391.11 74.60,391.06 C74.06,391.00 73.57,390.28 73.30,389.01 C73.04,387.74 73.03,385.60 73.02,383.43 C73.00,381.26 73.09,378.06 73.23,375.99 C73.37,373.92 73.58,372.22 73.84,371.03 C74.11,369.84 74.40,368.71 74.82,368.86 Z" fill="#40f0c0"/>
<path d="M74.77,371.06 C75.09,371.19 75.49,372.66 75.97,373.66 C76.45,374.66 77.25,375.78 77.65,377.04 C78.06,378.30 78.36,379.81 78.41,381.20 C78.45,382.59 78.31,384.19 77.93,385.36 C77.55,386.53 76.67,387.50 76.11,388.22 C75.56,388.94 75.02,389.72 74.60,389.68 C74.18,389.63 73.80,389.03 73.59,387.96 C73.39,386.89 73.38,385.10 73.37,383.28 C73.36,381.46 73.43,378.77 73.54,377.04 C73.64,375.31 73.81,373.88 74.01,372.88 C74.22,371.88 74.44,370.93 74.77,371.06 Z" fill="#30d030"/>
<path d="M74.72,373.70 C74.95,373.80 75.24,374.93 75.58,375.70 C75.92,376.47 76.49,377.33 76.78,378.30 C77.07,379.27 77.29,380.43 77.32,381.50 C77.35,382.57 77.25,383.80 76.98,384.70 C76.71,385.60 76.08,386.35 75.68,386.90 C75.28,387.45 74.90,388.05 74.60,388.02 C74.30,387.99 74.03,387.52 73.88,386.70 C73.73,385.88 73.73,384.50 73.72,383.10 C73.71,381.70 73.76,379.63 73.84,378.30 C73.92,376.97 74.03,375.87 74.18,375.10 C74.33,374.33 74.49,373.60 74.72,373.70 Z" fill="#d8f000"/>
<path d="M74.68,376.34 C74.83,376.41 75.01,377.20 75.24,377.74 C75.46,378.28 75.83,378.88 76.02,379.56 C76.21,380.24 76.35,381.05 76.37,381.80 C76.39,382.55 76.32,383.41 76.15,384.04 C75.97,384.67 75.56,385.19 75.30,385.58 C75.04,385.97 74.79,386.39 74.60,386.36 C74.41,386.34 74.23,386.01 74.13,385.44 C74.04,384.87 74.03,383.90 74.03,382.92 C74.02,381.94 74.06,380.49 74.11,379.56 C74.16,378.63 74.23,377.86 74.33,377.32 C74.42,376.78 74.53,376.27 74.68,376.34 Z" fill="#ff7000"/>
<path d="M74.65,378.54 C74.74,378.59 74.85,379.10 74.99,379.44 C75.13,379.78 75.36,380.18 75.47,380.61 C75.59,381.05 75.67,381.57 75.69,382.05 C75.70,382.53 75.66,383.09 75.55,383.49 C75.44,383.89 75.19,384.23 75.03,384.48 C74.87,384.73 74.72,385.00 74.60,384.98 C74.48,384.97 74.37,384.76 74.31,384.39 C74.25,384.02 74.25,383.40 74.25,382.77 C74.25,382.14 74.27,381.21 74.30,380.61 C74.33,380.01 74.37,379.51 74.43,379.17 C74.49,378.83 74.55,378.50 74.65,378.54 Z" fill="#e00000"/>
</g>
<polyline points="142.6,353.1 76.1,353.1 76.1,396.2" fill="none" stroke="#666" stroke-width="0.9"/>
<line x1="76.10" y1="396.20" x2="142.60" y2="396.20" stroke="#999" stroke-width="1.0" />
<text x="99.40" y="333.00" font-size="8.8" text-anchor="middle" fill="#333" textLength="15.4" lengthAdjust="spacingAndGlyphs" stroke="#333" stroke-width="0.22" >23%</text>
<rect x="147.70" y="307.30" width="90.80" height="90.60" fill="none" stroke="#9a9a9a" stroke-width="1.0" />
<g filter="url(#soft)">
<path d="M171.50,358.80 C172.92,358.22 174.25,361.22 176.00,362.50 C177.75,363.78 179.67,365.08 182.00,366.50 C184.33,367.92 187.78,368.98 190.00,371.00 C192.22,373.02 195.47,376.05 195.30,378.60 C195.13,381.15 191.72,384.27 189.00,386.30 C186.28,388.33 182.00,389.48 179.00,390.80 C176.00,392.12 173.00,394.33 171.00,394.20 C169.00,394.07 167.80,392.70 167.00,390.00 C166.20,387.30 166.12,382.00 166.20,378.00 C166.28,374.00 166.62,369.20 167.50,366.00 C168.38,362.80 170.08,359.38 171.50,358.80 Z" fill="#0000f5"/>
<path d="M171.32,360.37 C172.54,359.83 173.68,362.62 175.19,363.81 C176.69,365.00 178.34,366.21 180.35,367.53 C182.35,368.85 185.32,369.84 187.23,371.71 C189.13,373.59 191.93,376.41 191.79,378.78 C191.64,381.15 188.70,384.05 186.37,385.94 C184.03,387.83 180.35,388.90 177.77,390.13 C175.19,391.35 172.61,393.41 170.89,393.29 C169.17,393.17 168.14,391.89 167.45,389.38 C166.76,386.87 166.69,381.94 166.76,378.22 C166.83,374.50 167.12,370.04 167.88,367.06 C168.64,364.09 170.10,360.91 171.32,360.37 Z" fill="#0a30ff"/>
<path d="M171.14,361.94 C172.16,361.43 173.12,364.01 174.38,365.12 C175.64,366.22 177.02,367.34 178.70,368.56 C180.38,369.78 182.86,370.69 184.46,372.43 C186.05,374.16 188.39,376.77 188.27,378.96 C188.15,381.16 185.69,383.84 183.74,385.59 C181.78,387.33 178.70,388.32 176.54,389.46 C174.38,390.59 172.22,392.49 170.78,392.38 C169.34,392.27 168.47,391.09 167.90,388.77 C167.32,386.45 167.26,381.89 167.32,378.45 C167.38,375.01 167.62,370.88 168.26,368.13 C168.89,365.38 170.12,362.44 171.14,361.94 Z" fill="#2a6cff"/>
<path d="M170.95,363.28 C171.78,362.81 172.55,365.21 173.56,366.24 C174.58,367.27 175.69,368.31 177.04,369.44 C178.40,370.57 180.40,371.43 181.68,373.04 C182.97,374.65 184.85,377.08 184.76,379.12 C184.66,381.16 182.68,383.65 181.10,385.28 C179.53,386.91 177.04,387.83 175.30,388.88 C173.56,389.93 171.82,391.71 170.66,391.60 C169.50,391.49 168.81,390.40 168.34,388.24 C167.88,386.08 167.83,381.84 167.88,378.64 C167.93,375.44 168.12,371.60 168.63,369.04 C169.15,366.48 170.13,363.75 170.95,363.28 Z" fill="#5aa8ff"/>
<path d="M170.77,365.07 C171.40,364.65 171.98,366.81 172.75,367.74 C173.52,368.66 174.37,369.60 175.39,370.62 C176.42,371.64 177.94,372.40 178.91,373.86 C179.89,375.31 181.32,377.49 181.24,379.33 C181.17,381.16 179.67,383.41 178.47,384.87 C177.28,386.34 175.39,387.16 174.07,388.11 C172.75,389.06 171.43,390.66 170.55,390.56 C169.67,390.46 169.14,389.48 168.79,387.54 C168.44,385.59 168.40,381.78 168.44,378.90 C168.48,376.02 168.62,372.56 169.01,370.26 C169.40,367.95 170.15,365.49 170.77,365.07 Z" fill="#60e8ff"/>
<path d="M170.67,367.31 C171.18,366.95 171.66,368.81 172.29,369.61 C172.92,370.40 173.61,371.21 174.45,372.09 C175.29,372.96 176.53,373.63 177.33,374.88 C178.13,376.13 179.30,378.01 179.24,379.59 C179.18,381.17 177.95,383.10 176.97,384.36 C175.99,385.62 174.45,386.34 173.37,387.15 C172.29,387.97 171.21,389.34 170.49,389.26 C169.77,389.18 169.34,388.33 169.05,386.66 C168.76,384.98 168.73,381.70 168.76,379.22 C168.79,376.74 168.91,373.76 169.23,371.78 C169.55,369.79 170.16,367.67 170.67,367.31 Z" fill="#40f0c0"/>
<path d="M170.56,369.55 C170.96,369.25 171.33,370.81 171.82,371.48 C172.31,372.14 172.85,372.82 173.50,373.56 C174.16,374.29 175.12,374.85 175.74,375.90 C176.36,376.94 177.27,378.52 177.23,379.85 C177.18,381.17 176.22,382.79 175.46,383.85 C174.70,384.91 173.50,385.51 172.66,386.19 C171.82,386.88 170.98,388.03 170.42,387.96 C169.86,387.89 169.53,387.18 169.30,385.78 C169.08,384.37 169.06,381.62 169.08,379.54 C169.10,377.46 169.20,374.96 169.44,373.30 C169.69,371.63 170.17,369.86 170.56,369.55 Z" fill="#30d030"/>
<path d="M170.46,372.24 C170.74,372.01 171.01,373.21 171.36,373.72 C171.71,374.23 172.09,374.75 172.56,375.32 C173.03,375.89 173.72,376.31 174.16,377.12 C174.60,377.93 175.25,379.14 175.22,380.16 C175.19,381.18 174.50,382.43 173.96,383.24 C173.42,384.05 172.56,384.51 171.96,385.04 C171.36,385.57 170.76,386.45 170.36,386.40 C169.96,386.35 169.72,385.80 169.56,384.72 C169.40,383.64 169.38,381.52 169.40,379.92 C169.42,378.32 169.48,376.40 169.66,375.12 C169.84,373.84 170.18,372.47 170.46,372.24 Z" fill="#d8f000"/>
<path d="M170.37,374.93 C170.55,374.76 170.73,375.60 170.95,375.96 C171.18,376.32 171.43,376.69 171.73,377.08 C172.04,377.48 172.49,377.78 172.77,378.34 C173.06,378.91 173.48,379.76 173.46,380.47 C173.44,381.19 173.00,382.06 172.64,382.63 C172.29,383.20 171.73,383.52 171.34,383.89 C170.95,384.26 170.56,384.88 170.30,384.84 C170.04,384.80 169.89,384.42 169.78,383.66 C169.68,382.91 169.67,381.42 169.68,380.30 C169.69,379.18 169.73,377.84 169.85,376.94 C169.96,376.05 170.18,375.09 170.37,374.93 Z" fill="#ff7000"/>
<path d="M170.30,377.17 C170.42,377.06 170.52,377.60 170.66,377.83 C170.80,378.06 170.96,378.30 171.14,378.55 C171.33,378.81 171.61,379.00 171.78,379.36 C171.96,379.73 172.22,380.27 172.21,380.73 C172.19,381.19 171.92,381.75 171.70,382.12 C171.49,382.48 171.14,382.69 170.90,382.93 C170.66,383.16 170.42,383.56 170.26,383.54 C170.10,383.52 170.01,383.27 169.94,382.78 C169.88,382.30 169.87,381.34 169.88,380.62 C169.89,379.90 169.91,379.04 169.98,378.46 C170.05,377.89 170.19,377.27 170.30,377.17 Z" fill="#e00000"/>
</g>
<polyline points="238.5,352.6 171.5,352.6 171.5,395.5" fill="none" stroke="#666" stroke-width="0.9"/>
<line x1="171.50" y1="395.50" x2="238.50" y2="395.50" stroke="#999" stroke-width="1.0" />
<text x="192.60" y="332.10" font-size="8.8" text-anchor="middle" fill="#333" textLength="15.4" lengthAdjust="spacingAndGlyphs" stroke="#333" stroke-width="0.22" >39%</text>
<rect x="51.60" y="403.20" width="91.00" height="91.10" fill="none" stroke="#9a9a9a" stroke-width="1.0" />
<g filter="url(#soft)">
<path d="M75.30,460.40 C76.75,460.65 79.00,462.23 80.50,464.00 C82.00,465.77 83.57,468.67 84.30,471.00 C85.03,473.33 85.20,475.50 84.90,478.00 C84.60,480.50 83.73,483.83 82.50,486.00 C81.27,488.17 79.00,489.95 77.50,491.00 C76.00,492.05 74.80,492.63 73.50,492.30 C72.20,491.97 70.52,491.05 69.70,489.00 C68.88,486.95 68.63,483.33 68.60,480.00 C68.57,476.67 68.97,471.92 69.50,469.00 C70.03,466.08 70.83,463.93 71.80,462.50 C72.77,461.07 73.85,460.15 75.30,460.40 Z" fill="#0000f5"/>
<path d="M75.12,461.90 C76.36,462.13 78.30,463.60 79.59,465.25 C80.88,466.89 82.23,469.59 82.86,471.76 C83.49,473.93 83.63,475.94 83.37,478.27 C83.12,480.59 82.37,483.69 81.31,485.71 C80.25,487.72 78.30,489.38 77.01,490.36 C75.72,491.33 74.69,491.88 73.57,491.56 C72.45,491.25 71.00,490.40 70.30,488.50 C69.60,486.59 69.38,483.23 69.36,480.13 C69.33,477.03 69.67,472.61 70.13,469.90 C70.59,467.18 71.28,465.18 72.11,463.85 C72.94,462.52 73.87,461.67 75.12,461.90 Z" fill="#0a30ff"/>
<path d="M74.94,463.40 C75.98,463.61 77.60,464.97 78.68,466.49 C79.76,468.01 80.89,470.51 81.42,472.51 C81.94,474.52 82.06,476.38 81.85,478.53 C81.63,480.68 81.01,483.55 80.12,485.41 C79.23,487.28 77.60,488.81 76.52,489.71 C75.44,490.62 74.58,491.12 73.64,490.83 C72.70,490.54 71.49,489.75 70.90,487.99 C70.32,486.23 70.14,483.12 70.11,480.25 C70.09,477.39 70.38,473.30 70.76,470.79 C71.14,468.28 71.72,466.43 72.42,465.20 C73.11,463.97 73.89,463.18 74.94,463.40 Z" fill="#2a6cff"/>
<path d="M74.75,464.68 C75.59,464.88 76.90,466.15 77.77,467.56 C78.64,468.97 79.55,471.29 79.97,473.16 C80.40,475.03 80.50,476.76 80.32,478.76 C80.15,480.76 79.65,483.43 78.93,485.16 C78.21,486.89 76.90,488.32 76.03,489.16 C75.16,490.00 74.46,490.47 73.71,490.20 C72.96,489.93 71.98,489.20 71.51,487.56 C71.03,485.92 70.89,483.03 70.87,480.36 C70.85,477.69 71.08,473.89 71.39,471.56 C71.70,469.23 72.16,467.51 72.72,466.36 C73.28,465.21 73.91,464.48 74.75,464.68 Z" fill="#5aa8ff"/>
<path d="M74.57,466.39 C75.21,466.57 76.20,467.71 76.86,468.98 C77.52,470.26 78.21,472.34 78.53,474.02 C78.85,475.70 78.93,477.26 78.80,479.06 C78.66,480.86 78.28,483.26 77.74,484.82 C77.20,486.38 76.20,487.67 75.54,488.42 C74.88,489.18 74.35,489.60 73.78,489.36 C73.21,489.12 72.47,488.46 72.11,486.98 C71.75,485.51 71.64,482.90 71.62,480.50 C71.61,478.10 71.79,474.68 72.02,472.58 C72.25,470.48 72.61,468.94 73.03,467.90 C73.46,466.87 73.93,466.21 74.57,466.39 Z" fill="#60e8ff"/>
<path d="M74.47,468.53 C74.99,468.69 75.80,469.67 76.34,470.76 C76.88,471.86 77.44,473.66 77.71,475.10 C77.97,476.55 78.03,477.89 77.92,479.44 C77.82,480.99 77.50,483.06 77.06,484.40 C76.62,485.75 75.80,486.85 75.26,487.50 C74.72,488.16 74.29,488.52 73.82,488.31 C73.35,488.10 72.75,487.54 72.45,486.26 C72.16,484.99 72.07,482.75 72.06,480.68 C72.04,478.62 72.19,475.67 72.38,473.86 C72.57,472.06 72.86,470.72 73.21,469.83 C73.56,468.95 73.95,468.38 74.47,468.53 Z" fill="#40f0c0"/>
<path d="M74.36,470.67 C74.77,470.80 75.40,471.63 75.82,472.54 C76.24,473.46 76.68,474.97 76.88,476.18 C77.09,477.40 77.14,478.52 77.05,479.82 C76.97,481.12 76.73,482.86 76.38,483.98 C76.03,485.11 75.40,486.04 74.98,486.58 C74.56,487.13 74.22,487.43 73.86,487.26 C73.50,487.09 73.02,486.61 72.80,485.54 C72.57,484.48 72.50,482.60 72.49,480.86 C72.48,479.13 72.59,476.66 72.74,475.14 C72.89,473.63 73.11,472.51 73.38,471.76 C73.65,471.02 73.96,470.54 74.36,470.67 Z" fill="#30d030"/>
<path d="M74.26,473.24 C74.55,473.34 75.00,473.97 75.30,474.68 C75.60,475.39 75.91,476.55 76.06,477.48 C76.21,478.41 76.24,479.28 76.18,480.28 C76.12,481.28 75.95,482.61 75.70,483.48 C75.45,484.35 75.00,485.06 74.70,485.48 C74.40,485.90 74.16,486.13 73.90,486.00 C73.64,485.87 73.30,485.50 73.14,484.68 C72.98,483.86 72.93,482.41 72.92,481.08 C72.91,479.75 72.99,477.85 73.10,476.68 C73.21,475.51 73.37,474.65 73.56,474.08 C73.75,473.51 73.97,473.14 74.26,473.24 Z" fill="#d8f000"/>
<path d="M74.17,475.81 C74.36,475.88 74.65,476.32 74.84,476.82 C75.04,477.31 75.24,478.12 75.34,478.78 C75.43,479.43 75.46,480.04 75.42,480.74 C75.38,481.44 75.27,482.37 75.11,482.98 C74.94,483.58 74.65,484.08 74.45,484.38 C74.26,484.67 74.10,484.83 73.94,484.74 C73.77,484.65 73.55,484.39 73.44,483.82 C73.33,483.24 73.30,482.23 73.30,481.30 C73.29,480.36 73.35,479.03 73.42,478.22 C73.48,477.40 73.59,476.80 73.71,476.40 C73.84,475.99 73.98,475.74 74.17,475.81 Z" fill="#ff7000"/>
<path d="M74.10,477.95 C74.22,477.99 74.40,478.28 74.52,478.60 C74.64,478.91 74.77,479.44 74.82,479.86 C74.88,480.28 74.90,480.67 74.87,481.12 C74.85,481.57 74.78,482.17 74.68,482.56 C74.58,482.95 74.40,483.27 74.28,483.46 C74.16,483.65 74.06,483.75 73.96,483.69 C73.86,483.63 73.72,483.47 73.66,483.10 C73.59,482.73 73.57,482.08 73.57,481.48 C73.57,480.88 73.60,480.02 73.64,479.50 C73.68,478.97 73.75,478.58 73.82,478.33 C73.90,478.07 73.99,477.90 74.10,477.95 Z" fill="#e00000"/>
</g>
<polyline points="142.6,449.3 75.5,449.3 75.5,494.3" fill="none" stroke="#666" stroke-width="0.9"/>
<text x="98.60" y="431.40" font-size="8.8" text-anchor="middle" fill="#333" textLength="15.4" lengthAdjust="spacingAndGlyphs" stroke="#333" stroke-width="0.22" >24%</text>
<rect x="147.70" y="403.20" width="90.80" height="91.10" fill="none" stroke="#9a9a9a" stroke-width="1.0" />
<g filter="url(#soft)">
<path d="M171.50,458.80 C173.17,458.05 174.75,459.55 176.00,460.50 C177.25,461.45 177.42,463.08 179.00,464.50 C180.58,465.92 184.17,467.25 185.50,469.00 C186.83,470.75 187.08,472.67 187.00,475.00 C186.92,477.33 185.83,480.83 185.00,483.00 C184.17,485.17 183.00,486.42 182.00,488.00 C181.00,489.58 180.17,491.67 179.00,492.50 C177.83,493.33 176.33,492.87 175.00,493.00 C173.67,493.13 172.33,493.80 171.00,493.30 C169.67,492.80 168.10,492.55 167.00,490.00 C165.90,487.45 164.57,482.17 164.40,478.00 C164.23,473.83 164.82,468.20 166.00,465.00 C167.18,461.80 169.83,459.55 171.50,458.80 Z" fill="#0000f5"/>
<path d="M171.32,460.28 C172.75,459.58 174.11,460.97 175.19,461.86 C176.26,462.74 176.41,464.26 177.77,465.58 C179.13,466.90 182.21,468.14 183.36,469.76 C184.50,471.39 184.72,473.17 184.65,475.34 C184.58,477.51 183.64,480.77 182.93,482.78 C182.21,484.80 181.21,485.96 180.35,487.43 C179.49,488.91 178.77,490.84 177.77,491.62 C176.76,492.39 175.47,491.96 174.33,492.08 C173.18,492.21 172.03,492.83 170.89,492.36 C169.74,491.90 168.39,491.66 167.45,489.29 C166.50,486.92 165.36,482.01 165.21,478.13 C165.07,474.26 165.57,469.02 166.59,466.04 C167.61,463.07 169.88,460.97 171.32,460.28 Z" fill="#0a30ff"/>
<path d="M171.14,461.75 C172.34,461.11 173.48,462.40 174.38,463.22 C175.28,464.03 175.40,465.44 176.54,466.66 C177.68,467.87 180.26,469.02 181.22,470.53 C182.18,472.03 182.36,473.68 182.30,475.69 C182.24,477.69 181.46,480.70 180.86,482.57 C180.26,484.43 179.42,485.50 178.70,486.87 C177.98,488.23 177.38,490.02 176.54,490.74 C175.70,491.45 174.62,491.05 173.66,491.17 C172.70,491.28 171.74,491.85 170.78,491.42 C169.82,490.99 168.69,490.78 167.90,488.59 C167.10,486.39 166.14,481.85 166.02,478.27 C165.90,474.68 166.32,469.84 167.18,467.09 C168.03,464.33 169.94,462.40 171.14,461.75 Z" fill="#2a6cff"/>
<path d="M170.95,463.02 C171.92,462.42 172.84,463.62 173.56,464.38 C174.29,465.14 174.39,466.45 175.30,467.58 C176.22,468.71 178.30,469.78 179.07,471.18 C179.85,472.58 179.99,474.11 179.94,475.98 C179.90,477.85 179.27,480.65 178.78,482.38 C178.30,484.11 177.62,485.11 177.04,486.38 C176.46,487.65 175.98,489.31 175.30,489.98 C174.63,490.65 173.76,490.27 172.98,490.38 C172.21,490.49 171.44,491.02 170.66,490.62 C169.89,490.22 168.98,490.02 168.34,487.98 C167.71,485.94 166.93,481.71 166.84,478.38 C166.74,475.05 167.08,470.54 167.76,467.98 C168.45,465.42 169.99,463.62 170.95,463.02 Z" fill="#5aa8ff"/>
<path d="M170.77,464.71 C171.51,464.17 172.20,465.25 172.75,465.93 C173.30,466.62 173.38,467.79 174.07,468.81 C174.77,469.83 176.35,470.79 176.93,472.05 C177.52,473.31 177.63,474.69 177.59,476.37 C177.56,478.05 177.08,480.57 176.71,482.13 C176.35,483.69 175.83,484.59 175.39,485.73 C174.95,486.87 174.59,488.37 174.07,488.97 C173.56,489.57 172.90,489.24 172.31,489.33 C171.73,489.43 171.14,489.91 170.55,489.55 C169.97,489.19 169.28,489.01 168.79,487.17 C168.31,485.34 167.72,481.53 167.65,478.53 C167.57,475.53 167.83,471.48 168.35,469.17 C168.87,466.87 170.04,465.25 170.77,464.71 Z" fill="#60e8ff"/>
<path d="M170.67,466.82 C171.27,466.35 171.84,467.28 172.29,467.87 C172.74,468.46 172.80,469.47 173.37,470.35 C173.94,471.23 175.23,472.06 175.71,473.14 C176.19,474.23 176.28,475.42 176.25,476.86 C176.22,478.31 175.83,480.48 175.53,481.82 C175.23,483.17 174.81,483.94 174.45,484.92 C174.09,485.90 173.79,487.20 173.37,487.71 C172.95,488.23 172.41,487.94 171.93,488.02 C171.45,488.10 170.97,488.52 170.49,488.21 C170.01,487.90 169.44,487.74 169.05,486.16 C168.65,484.58 168.17,481.31 168.11,478.72 C168.05,476.14 168.26,472.65 168.69,470.66 C169.11,468.68 170.07,467.28 170.67,466.82 Z" fill="#40f0c0"/>
<path d="M170.56,468.93 C171.03,468.54 171.47,469.32 171.82,469.81 C172.17,470.31 172.22,471.16 172.66,471.89 C173.11,472.63 174.11,473.32 174.48,474.23 C174.86,475.14 174.93,476.14 174.90,477.35 C174.88,478.57 174.58,480.39 174.34,481.51 C174.11,482.64 173.78,483.29 173.50,484.11 C173.22,484.94 172.99,486.02 172.66,486.45 C172.34,486.89 171.92,486.64 171.54,486.71 C171.17,486.78 170.80,487.13 170.42,486.87 C170.05,486.61 169.61,486.48 169.30,485.15 C169.00,483.83 168.62,481.08 168.58,478.91 C168.53,476.75 168.69,473.82 169.02,472.15 C169.36,470.49 170.10,469.32 170.56,468.93 Z" fill="#30d030"/>
<path d="M170.46,471.46 C170.79,471.16 171.11,471.76 171.36,472.14 C171.61,472.52 171.64,473.17 171.96,473.74 C172.28,474.31 172.99,474.84 173.26,475.54 C173.53,476.24 173.58,477.01 173.56,477.94 C173.54,478.87 173.33,480.27 173.16,481.14 C172.99,482.01 172.76,482.51 172.56,483.14 C172.36,483.77 172.19,484.61 171.96,484.94 C171.73,485.27 171.43,485.09 171.16,485.14 C170.89,485.19 170.63,485.46 170.36,485.26 C170.09,485.06 169.78,484.96 169.56,483.94 C169.34,482.92 169.07,480.81 169.04,479.14 C169.01,477.47 169.12,475.22 169.36,473.94 C169.60,472.66 170.13,471.76 170.46,471.46 Z" fill="#d8f000"/>
<path d="M170.37,473.99 C170.59,473.78 170.79,474.20 170.95,474.47 C171.12,474.73 171.14,475.19 171.34,475.59 C171.55,475.98 172.02,476.36 172.19,476.85 C172.36,477.34 172.39,477.87 172.38,478.53 C172.37,479.18 172.23,480.16 172.12,480.77 C172.02,481.37 171.86,481.72 171.73,482.17 C171.60,482.61 171.50,483.19 171.34,483.43 C171.19,483.66 171.00,483.53 170.82,483.57 C170.65,483.61 170.48,483.79 170.30,483.65 C170.13,483.51 169.93,483.44 169.78,482.73 C169.64,482.01 169.47,480.53 169.45,479.37 C169.42,478.20 169.50,476.62 169.65,475.73 C169.81,474.83 170.15,474.20 170.37,473.99 Z" fill="#ff7000"/>
<path d="M170.30,476.10 C170.44,475.97 170.56,476.24 170.66,476.41 C170.76,476.58 170.78,476.87 170.90,477.13 C171.03,477.38 171.32,477.62 171.42,477.94 C171.53,478.25 171.55,478.60 171.54,479.02 C171.54,479.44 171.45,480.07 171.38,480.46 C171.32,480.85 171.22,481.07 171.14,481.36 C171.06,481.64 171.00,482.02 170.90,482.17 C170.81,482.32 170.69,482.23 170.58,482.26 C170.48,482.28 170.37,482.40 170.26,482.31 C170.16,482.22 170.03,482.18 169.94,481.72 C169.86,481.26 169.75,480.31 169.74,479.56 C169.72,478.81 169.77,477.79 169.86,477.22 C169.96,476.64 170.17,476.24 170.30,476.10 Z" fill="#e00000"/>
</g>
<polyline points="238.5,449.3 171.5,449.3 171.5,494.3" fill="none" stroke="#666" stroke-width="0.9"/>
<text x="192.50" y="431.40" font-size="8.8" text-anchor="middle" fill="#333" textLength="15.4" lengthAdjust="spacingAndGlyphs" stroke="#333" stroke-width="0.22" >35%</text>
<circle cx="192.8" cy="472.2" r="0.6" fill="#2040ff"/>
<ellipse cx="148.8" cy="490.4" rx="1.6" ry="2.5" fill="#3060ff"/>
<circle cx="52.3" cy="491" r="0.9" fill="#2030ff"/>
<line x1="41.50" y1="311.00" x2="41.50" y2="384.20" stroke="#111" stroke-width="1.0" />
<path d="M41.5,308.3 L39.6,313.3 L43.4,313.3 Z" fill="#111"/>
<line x1="41.50" y1="418.20" x2="41.50" y2="506.50" stroke="#111" stroke-width="1.0" />
<line x1="41.00" y1="506.30" x2="129.50" y2="506.20" stroke="#111" stroke-width="1.1" />
<line x1="159.60" y1="505.80" x2="235.00" y2="505.60" stroke="#111" stroke-width="1.1" />
<path d="M239,505.6 L233.5,503.3 L233.5,507.9 Z" fill="#111"/>
<rect x="31.20" y="384.20" width="16.80" height="34.00" fill="#fff" stroke="#111" stroke-width="1.3" />
<text x="43.50" y="401.10" font-size="10" text-anchor="middle" fill="#111" font-weight="bold" textLength="23" lengthAdjust="spacingAndGlyphs" transform="rotate(-90 43.50 401.10)" stroke="#111" stroke-width="0.18" >FSC-A</text>
<rect x="129.50" y="497.40" width="30.10" height="17.10" fill="#fff" stroke="#111" stroke-width="1.3" />
<text x="144.40" y="509.30" font-size="8.9" text-anchor="middle" fill="#111" font-weight="bold" textLength="19.4" lengthAdjust="spacingAndGlyphs" stroke="#111" stroke-width="0.18" >IFNG</text>
<line x1="269.60" y1="301.40" x2="269.60" y2="392.30" stroke="#111" stroke-width="1.1" />
<line x1="269.60" y1="392.30" x2="331.00" y2="392.30" stroke="#111" stroke-width="1.1" />
<line x1="265.80" y1="392.30" x2="269.60" y2="392.30" stroke="#111" stroke-width="1.0" />
<text x="265.30" y="394.89" font-size="7.2" text-anchor="end" fill="#111" font-weight="bold" stroke="#111" stroke-width="0.05">0</text>
<line x1="265.80" y1="374.12" x2="269.60" y2="374.12" stroke="#111" stroke-width="1.0" />
<text x="265.30" y="376.71" font-size="7.2" text-anchor="end" fill="#111" font-weight="bold" stroke="#111" stroke-width="0.05">10</text>
<line x1="265.80" y1="355.94" x2="269.60" y2="355.94" stroke="#111" stroke-width="1.0" />
<text x="265.30" y="358.53" font-size="7.2" text-anchor="end" fill="#111" font-weight="bold" stroke="#111" stroke-width="0.05">20</text>
<line x1="265.80" y1="337.76" x2="269.60" y2="337.76" stroke="#111" stroke-width="1.0" />
<text x="265.30" y="340.35" font-size="7.2" text-anchor="end" fill="#111" font-weight="bold" stroke="#111" stroke-width="0.05">30</text>
<line x1="265.80" y1="319.58" x2="269.60" y2="319.58" stroke="#111" stroke-width="1.0" />
<text x="265.30" y="322.17" font-size="7.2" text-anchor="end" fill="#111" font-weight="bold" stroke="#111" stroke-width="0.05">40</text>
<line x1="265.80" y1="301.40" x2="269.60" y2="301.40" stroke="#111" stroke-width="1.0" />
<text x="265.30" y="303.99" font-size="7.2" text-anchor="end" fill="#111" font-weight="bold" stroke="#111" stroke-width="0.05">50</text>
<rect x="279.40" y="359.30" width="15.20" height="33.00" fill="#fff" stroke="#1a1a1a" stroke-width="1.6" />
<line x1="287.00" y1="392.30" x2="287.00" y2="395.70" stroke="#111" stroke-width="1" />
<line x1="287.00" y1="349.30" x2="287.00" y2="367.40" stroke="#9ccaf5" stroke-width="0.9" />
<line x1="282.80" y1="349.30" x2="291.20" y2="349.30" stroke="#9ccaf5" stroke-width="0.9" />
<line x1="282.80" y1="367.40" x2="291.20" y2="367.40" stroke="#9ccaf5" stroke-width="0.9" />
<circle cx="287.00" cy="351.70" r="1.6" fill="#5aa9f0"/>
<circle cx="287.00" cy="355.00" r="1.6" fill="#5aa9f0"/>
<circle cx="287.00" cy="367.40" r="1.6" fill="#5aa9f0"/>
<rect x="305.40" y="334.40" width="15.40" height="57.90" fill="#fff" stroke="#1a1a1a" stroke-width="1.6" />
<line x1="313.10" y1="392.30" x2="313.10" y2="395.70" stroke="#111" stroke-width="1" />
<line x1="313.10" y1="323.00" x2="313.10" y2="343.30" stroke="#f08080" stroke-width="0.9" />
<line x1="308.90" y1="323.00" x2="317.30" y2="323.00" stroke="#f08080" stroke-width="0.9" />
<line x1="308.90" y1="343.30" x2="317.30" y2="343.30" stroke="#f08080" stroke-width="0.9" />
<rect x="311.70" y="320.90" width="3.00" height="3.00" fill="#e82a2a" stroke="none" stroke-width="1.0" />
<rect x="308.30" y="337.90" width="3.00" height="3.00" fill="#e82a2a" stroke="none" stroke-width="1.0" />
<rect x="314.40" y="337.30" width="3.00" height="3.00" fill="#e82a2a" stroke="none" stroke-width="1.0" />
<polyline points="287.2,344.6 287.2,311 313.2,311 313.2,316.3" fill="none" stroke="#3a3a3a" stroke-width="1.2"/>
<text x="300.10" y="312.16" font-size="10.5" text-anchor="middle" fill="#1a1a1a" font-weight="bold" textLength="3.99" lengthAdjust="spacingAndGlyphs" stroke="#1a1a1a" stroke-width="0.18" >*</text>
<text x="285.00" y="403.20" font-size="7.8" text-anchor="middle" fill="#111" font-weight="bold" textLength="23.8" lengthAdjust="spacingAndGlyphs" stroke="#111" stroke-width="0.18" >EMPTY</text>
<text x="311.00" y="403.20" font-size="7.8" text-anchor="middle" fill="#111" font-weight="bold" textLength="20.3" lengthAdjust="spacingAndGlyphs" stroke="#111" stroke-width="0.18" >AMPK</text>
<text x="251.80" y="348.30" font-size="8" text-anchor="middle" fill="#222" font-weight="bold" textLength="27.2" lengthAdjust="spacingAndGlyphs" transform="rotate(-90 251.80 348.30)" stroke="#222" stroke-width="0.18" >% IFNG+</text>
<line x1="270.60" y1="412.50" x2="270.60" y2="503.00" stroke="#111" stroke-width="1.1" />
<line x1="270.60" y1="503.00" x2="331.60" y2="503.00" stroke="#111" stroke-width="1.1" />
<line x1="266.80" y1="503.00" x2="270.60" y2="503.00" stroke="#111" stroke-width="1.0" />
<text x="266.30" y="505.59" font-size="7.2" text-anchor="end" fill="#111" font-weight="bold" stroke="#111" stroke-width="0.05">20</text>
<line x1="266.80" y1="480.38" x2="270.60" y2="480.38" stroke="#111" stroke-width="1.0" />
<text x="266.30" y="482.97" font-size="7.2" text-anchor="end" fill="#111" font-weight="bold" stroke="#111" stroke-width="0.05">25</text>
<line x1="266.80" y1="457.75" x2="270.60" y2="457.75" stroke="#111" stroke-width="1.0" />
<text x="266.30" y="460.34" font-size="7.2" text-anchor="end" fill="#111" font-weight="bold" stroke="#111" stroke-width="0.05">30</text>
<line x1="266.80" y1="435.12" x2="270.60" y2="435.12" stroke="#111" stroke-width="1.0" />
<text x="266.30" y="437.72" font-size="7.2" text-anchor="end" fill="#111" font-weight="bold" stroke="#111" stroke-width="0.05">35</text>
<line x1="266.80" y1="412.50" x2="270.60" y2="412.50" stroke="#111" stroke-width="1.0" />
<text x="266.30" y="415.09" font-size="7.2" text-anchor="end" fill="#111" font-weight="bold" stroke="#111" stroke-width="0.05">40</text>
<rect x="280.00" y="484.80" width="15.40" height="18.20" fill="#fff" stroke="#1a1a1a" stroke-width="1.6" />
<line x1="287.70" y1="503.00" x2="287.70" y2="506.40" stroke="#111" stroke-width="1" />
<line x1="287.70" y1="469.00" x2="287.70" y2="497.60" stroke="#9ccaf5" stroke-width="0.9" />
<line x1="283.50" y1="469.00" x2="291.90" y2="469.00" stroke="#9ccaf5" stroke-width="0.9" />
<line x1="283.50" y1="497.60" x2="291.90" y2="497.60" stroke="#9ccaf5" stroke-width="0.9" />
<circle cx="288.00" cy="469.00" r="1.6" fill="#5aa9f0"/>
<circle cx="288.00" cy="484.50" r="1.6" fill="#5aa9f0"/>
<circle cx="288.00" cy="497.60" r="1.6" fill="#5aa9f0"/>
<rect x="306.80" y="435.10" width="14.80" height="67.90" fill="#fff" stroke="#1a1a1a" stroke-width="1.6" />
<line x1="314.20" y1="503.00" x2="314.20" y2="506.40" stroke="#111" stroke-width="1" />
<line x1="314.20" y1="429.80" x2="314.20" y2="438.20" stroke="#f08080" stroke-width="0.9" />
<line x1="310.00" y1="429.80" x2="318.40" y2="429.80" stroke="#f08080" stroke-width="0.9" />
<line x1="310.00" y1="438.20" x2="318.40" y2="438.20" stroke="#f08080" stroke-width="0.9" />
<circle cx="313.80" cy="429.80" r="1.6" fill="#e82a2a"/>
<circle cx="313.80" cy="434.30" r="1.6" fill="#e82a2a"/>
<circle cx="313.80" cy="438.20" r="1.6" fill="#e82a2a"/>
<polyline points="287.8,464.4 287.8,418.6 313.8,418.6 313.8,424.3" fill="none" stroke="#3a3a3a" stroke-width="1.2"/>
<text x="301.00" y="419.56" font-size="10.5" text-anchor="middle" fill="#1a1a1a" font-weight="bold" textLength="9.58" lengthAdjust="spacingAndGlyphs" stroke="#1a1a1a" stroke-width="0.18" >**</text>
<text x="285.80" y="514.80" font-size="7.8" text-anchor="middle" fill="#111" font-weight="bold" textLength="23.5" lengthAdjust="spacingAndGlyphs" stroke="#111" stroke-width="0.18" >EMPTY</text>
<text x="311.30" y="514.80" font-size="7.8" text-anchor="middle" fill="#111" font-weight="bold" textLength="20.6" lengthAdjust="spacingAndGlyphs" stroke="#111" stroke-width="0.18" >AMPK</text>
<text x="252.20" y="458.20" font-size="8" text-anchor="middle" fill="#222" font-weight="bold" textLength="27.2" lengthAdjust="spacingAndGlyphs" transform="rotate(-90 252.20 458.20)" stroke="#222" stroke-width="0.18" >% IFNG+</text>
<text x="333.00" y="285.70" font-size="18.5" text-anchor="start" fill="#000" font-weight="bold" textLength="13" lengthAdjust="spacingAndGlyphs" >D</text>
<text x="559.80" y="286.00" font-size="18.5" text-anchor="start" fill="#000" font-weight="bold" textLength="12" lengthAdjust="spacingAndGlyphs" >E</text>
<line x1="379.80" y1="301.60" x2="379.80" y2="392.10" stroke="#111" stroke-width="1.1" />
<line x1="379.80" y1="392.10" x2="440.50" y2="392.10" stroke="#111" stroke-width="1.1" />
<line x1="376.00" y1="392.10" x2="379.80" y2="392.10" stroke="#111" stroke-width="1.0" />
<text x="375.50" y="394.69" font-size="7.2" text-anchor="end" fill="#111" font-weight="bold" stroke="#111" stroke-width="0.05">500</text>
<line x1="376.00" y1="374.00" x2="379.80" y2="374.00" stroke="#111" stroke-width="1.0" />
<text x="375.50" y="376.59" font-size="7.2" text-anchor="end" fill="#111" font-weight="bold" stroke="#111" stroke-width="0.05">600</text>
<line x1="376.00" y1="355.90" x2="379.80" y2="355.90" stroke="#111" stroke-width="1.0" />
<text x="375.50" y="358.49" font-size="7.2" text-anchor="end" fill="#111" font-weight="bold" stroke="#111" stroke-width="0.05">700</text>
<line x1="376.00" y1="337.80" x2="379.80" y2="337.80" stroke="#111" stroke-width="1.0" />
<text x="375.50" y="340.39" font-size="7.2" text-anchor="end" fill="#111" font-weight="bold" stroke="#111" stroke-width="0.05">800</text>
<line x1="376.00" y1="319.70" x2="379.80" y2="319.70" stroke="#111" stroke-width="1.0" />
<text x="375.50" y="322.29" font-size="7.2" text-anchor="end" fill="#111" font-weight="bold" stroke="#111" stroke-width="0.05">900</text>
<line x1="376.00" y1="301.60" x2="379.80" y2="301.60" stroke="#111" stroke-width="1.0" />
<text x="375.50" y="304.19" font-size="7.2" text-anchor="end" fill="#111" font-weight="bold" stroke="#111" stroke-width="0.05">1000</text>
<rect x="389.50" y="363.80" width="15.40" height="28.30" fill="#fff" stroke="#1a1a1a" stroke-width="1.6" />
<line x1="397.20" y1="392.10" x2="397.20" y2="395.50" stroke="#111" stroke-width="1" />
<line x1="397.20" y1="349.30" x2="397.20" y2="377.30" stroke="#9ccaf5" stroke-width="0.9" />
<line x1="393.00" y1="349.30" x2="401.40" y2="349.30" stroke="#9ccaf5" stroke-width="0.9" />
<line x1="393.00" y1="377.30" x2="401.40" y2="377.30" stroke="#9ccaf5" stroke-width="0.9" />
<circle cx="397.30" cy="352.50" r="1.6" fill="#5aa9f0"/>
<circle cx="397.30" cy="359.00" r="1.6" fill="#5aa9f0"/>
<circle cx="397.30" cy="377.30" r="1.6" fill="#5aa9f0"/>
<rect x="415.70" y="335.80" width="15.40" height="56.30" fill="#fff" stroke="#1a1a1a" stroke-width="1.6" />
<line x1="423.40" y1="392.10" x2="423.40" y2="395.50" stroke="#111" stroke-width="1" />
<line x1="423.40" y1="312.40" x2="423.40" y2="357.70" stroke="#f08080" stroke-width="0.9" />
<line x1="419.20" y1="312.40" x2="427.60" y2="312.40" stroke="#f08080" stroke-width="0.9" />
<line x1="419.20" y1="357.70" x2="427.60" y2="357.70" stroke="#f08080" stroke-width="0.9" />
<circle cx="423.40" cy="312.40" r="1.6" fill="#e82a2a"/>
<circle cx="423.40" cy="334.00" r="1.6" fill="#e82a2a"/>
<circle cx="423.40" cy="357.70" r="1.6" fill="#e82a2a"/>
<polyline points="397.3,346 397.3,301.4 423.4,301.4 423.4,306.6" fill="none" stroke="#3a3a3a" stroke-width="1.2"/>
<text x="410.00" y="302.06" font-size="10.5" text-anchor="middle" fill="#1a1a1a" font-weight="bold" textLength="3.99" lengthAdjust="spacingAndGlyphs" stroke="#1a1a1a" stroke-width="0.18" >*</text>
<text x="395.30" y="403.00" font-size="7.8" text-anchor="middle" fill="#111" font-weight="bold" textLength="23.3" lengthAdjust="spacingAndGlyphs" stroke="#111" stroke-width="0.18" >EMPTY</text>
<text x="420.90" y="403.00" font-size="7.8" text-anchor="middle" fill="#111" font-weight="bold" textLength="21" lengthAdjust="spacingAndGlyphs" stroke="#111" stroke-width="0.18" >AMPK</text>
<text x="410.30" y="283.80" font-size="9.4" text-anchor="middle" fill="#1a1a1a" textLength="21.8" lengthAdjust="spacingAndGlyphs" stroke="#1a1a1a" stroke-width="0.22" >CD4+</text>
<line x1="399.60" y1="285.30" x2="420.90" y2="285.30" stroke="#a0a0a0" stroke-width="1.2" />
<text x="354.00" y="346.20" font-size="8.5" text-anchor="middle" fill="#222" font-weight="bold" textLength="34" lengthAdjust="spacingAndGlyphs" transform="rotate(-90 354.00 346.20)" stroke="#222" stroke-width="0.18" >TNFA MFI</text>
<line x1="480.20" y1="300.10" x2="480.20" y2="390.20" stroke="#111" stroke-width="1.1" />
<line x1="480.20" y1="390.20" x2="541.90" y2="390.20" stroke="#111" stroke-width="1.1" />
<line x1="476.40" y1="390.20" x2="480.20" y2="390.20" stroke="#111" stroke-width="1.0" />
<text x="475.90" y="392.79" font-size="7.2" text-anchor="end" fill="#111" font-weight="bold" stroke="#111" stroke-width="0.05">400</text>
<line x1="476.40" y1="372.18" x2="480.20" y2="372.18" stroke="#111" stroke-width="1.0" />
<text x="475.90" y="374.77" font-size="7.2" text-anchor="end" fill="#111" font-weight="bold" stroke="#111" stroke-width="0.05">450</text>
<line x1="476.40" y1="354.16" x2="480.20" y2="354.16" stroke="#111" stroke-width="1.0" />
<text x="475.90" y="356.75" font-size="7.2" text-anchor="end" fill="#111" font-weight="bold" stroke="#111" stroke-width="0.05">500</text>
<line x1="476.40" y1="336.14" x2="480.20" y2="336.14" stroke="#111" stroke-width="1.0" />
<text x="475.90" y="338.73" font-size="7.2" text-anchor="end" fill="#111" font-weight="bold" stroke="#111" stroke-width="0.05">550</text>
<line x1="476.40" y1="318.12" x2="480.20" y2="318.12" stroke="#111" stroke-width="1.0" />
<text x="475.90" y="320.71" font-size="7.2" text-anchor="end" fill="#111" font-weight="bold" stroke="#111" stroke-width="0.05">600</text>
<line x1="476.40" y1="300.10" x2="480.20" y2="300.10" stroke="#111" stroke-width="1.0" />
<text x="475.90" y="302.69" font-size="7.2" text-anchor="end" fill="#111" font-weight="bold" stroke="#111" stroke-width="0.05">650</text>
<rect x="490.00" y="374.20" width="15.20" height="16.00" fill="#fff" stroke="#1a1a1a" stroke-width="1.6" />
<line x1="497.60" y1="390.20" x2="497.60" y2="393.60" stroke="#111" stroke-width="1" />
<line x1="497.60" y1="360.20" x2="497.60" y2="386.40" stroke="#9ccaf5" stroke-width="0.9" />
<line x1="493.40" y1="360.20" x2="501.80" y2="360.20" stroke="#9ccaf5" stroke-width="0.9" />
<line x1="493.40" y1="386.40" x2="501.80" y2="386.40" stroke="#9ccaf5" stroke-width="0.9" />
<circle cx="497.70" cy="360.20" r="1.6" fill="#5aa9f0"/>
<circle cx="497.70" cy="373.00" r="1.6" fill="#5aa9f0"/>
<circle cx="497.70" cy="386.40" r="1.6" fill="#5aa9f0"/>
<rect x="516.00" y="350.20" width="15.20" height="40.00" fill="#fff" stroke="#1a1a1a" stroke-width="1.6" />
<line x1="523.60" y1="390.20" x2="523.60" y2="393.60" stroke="#111" stroke-width="1" />
<line x1="523.60" y1="316.90" x2="523.60" y2="380.80" stroke="#f08080" stroke-width="0.9" />
<line x1="519.40" y1="316.90" x2="527.80" y2="316.90" stroke="#f08080" stroke-width="0.9" />
<line x1="519.40" y1="380.80" x2="527.80" y2="380.80" stroke="#f08080" stroke-width="0.9" />
<circle cx="523.90" cy="316.90" r="1.6" fill="#e82a2a"/>
<circle cx="523.90" cy="350.50" r="1.6" fill="#e82a2a"/>
<circle cx="523.90" cy="380.80" r="1.6" fill="#e82a2a"/>
<polyline points="497.7,354.6 497.7,305.2 523.9,305.2 523.9,310.6" fill="none" stroke="#3a3a3a" stroke-width="1.2"/>
<text x="511.20" y="302.30" font-size="7.5" text-anchor="middle" fill="#222" textLength="7.3" lengthAdjust="spacingAndGlyphs" stroke="#222" stroke-width="0.22" >ns</text>
<text x="498.30" y="403.20" font-size="7.8" text-anchor="middle" fill="#111" font-weight="bold" textLength="24.7" lengthAdjust="spacingAndGlyphs" stroke="#111" stroke-width="0.18" >EMPTY</text>
<text x="522.00" y="403.20" font-size="7.8" text-anchor="middle" fill="#111" font-weight="bold" textLength="19.5" lengthAdjust="spacingAndGlyphs" stroke="#111" stroke-width="0.18" >AMPK</text>
<text x="509.80" y="283.80" font-size="9.4" text-anchor="middle" fill="#1a1a1a" textLength="21.8" lengthAdjust="spacingAndGlyphs" stroke="#1a1a1a" stroke-width="0.22" >CD8+</text>
<line x1="499.00" y1="285.30" x2="520.60" y2="285.30" stroke="#a0a0a0" stroke-width="1.2" />
<text x="458.10" y="345.00" font-size="8.2" text-anchor="middle" fill="#222" font-weight="bold" textLength="34" lengthAdjust="spacingAndGlyphs" transform="rotate(-90 458.10 345.00)" stroke="#222" stroke-width="0.18" >TNFA MFI</text>
<line x1="600.50" y1="304.80" x2="600.50" y2="396.40" stroke="#111" stroke-width="1.1" />
<line x1="600.50" y1="396.40" x2="660.50" y2="396.40" stroke="#111" stroke-width="1.1" />
<line x1="596.70" y1="396.40" x2="600.50" y2="396.40" stroke="#111" stroke-width="1.0" />
<text x="596.20" y="398.99" font-size="7.2" text-anchor="end" fill="#111" font-weight="bold" stroke="#111" stroke-width="0.05">0</text>
<line x1="596.70" y1="378.08" x2="600.50" y2="378.08" stroke="#111" stroke-width="1.0" />
<text x="596.20" y="380.67" font-size="7.2" text-anchor="end" fill="#111" font-weight="bold" stroke="#111" stroke-width="0.05">500</text>
<line x1="596.70" y1="359.76" x2="600.50" y2="359.76" stroke="#111" stroke-width="1.0" />
<text x="596.20" y="362.35" font-size="7.2" text-anchor="end" fill="#111" font-weight="bold" stroke="#111" stroke-width="0.05">1000</text>
<line x1="596.70" y1="341.44" x2="600.50" y2="341.44" stroke="#111" stroke-width="1.0" />
<text x="596.20" y="344.03" font-size="7.2" text-anchor="end" fill="#111" font-weight="bold" stroke="#111" stroke-width="0.05">1500</text>
<line x1="596.70" y1="323.12" x2="600.50" y2="323.12" stroke="#111" stroke-width="1.0" />
<text x="596.20" y="325.71" font-size="7.2" text-anchor="end" fill="#111" font-weight="bold" stroke="#111" stroke-width="0.05">2000</text>
<line x1="596.70" y1="304.80" x2="600.50" y2="304.80" stroke="#111" stroke-width="1.0" />
<text x="596.20" y="307.39" font-size="7.2" text-anchor="end" fill="#111" font-weight="bold" stroke="#111" stroke-width="0.05">2500</text>
<rect x="609.50" y="348.80" width="15.40" height="47.60" fill="#fff" stroke="#1a1a1a" stroke-width="1.6" />
<line x1="617.20" y1="396.40" x2="617.20" y2="399.80" stroke="#111" stroke-width="1" />
<line x1="617.20" y1="329.70" x2="617.20" y2="366.90" stroke="#9ccaf5" stroke-width="0.9" />
<line x1="613.00" y1="329.70" x2="621.40" y2="329.70" stroke="#9ccaf5" stroke-width="0.9" />
<line x1="613.00" y1="366.90" x2="621.40" y2="366.90" stroke="#9ccaf5" stroke-width="0.9" />
<circle cx="617.40" cy="329.70" r="1.6" fill="#5aa9f0"/>
<circle cx="617.40" cy="347.20" r="1.6" fill="#5aa9f0"/>
<circle cx="617.40" cy="366.90" r="1.6" fill="#5aa9f0"/>
<rect x="635.70" y="338.80" width="15.40" height="57.60" fill="#fff" stroke="#1a1a1a" stroke-width="1.6" />
<line x1="643.40" y1="396.40" x2="643.40" y2="399.80" stroke="#111" stroke-width="1" />
<line x1="643.40" y1="317.10" x2="643.40" y2="357.70" stroke="#f08080" stroke-width="0.9" />
<line x1="639.20" y1="317.10" x2="647.60" y2="317.10" stroke="#f08080" stroke-width="0.9" />
<line x1="639.20" y1="357.70" x2="647.60" y2="357.70" stroke="#f08080" stroke-width="0.9" />
<rect x="642.00" y="315.00" width="3.00" height="3.00" fill="#e82a2a" stroke="none" stroke-width="1.0" />
<rect x="642.00" y="339.20" width="3.00" height="3.00" fill="#e82a2a" stroke="none" stroke-width="1.0" />
<rect x="642.00" y="354.40" width="3.00" height="3.00" fill="#e82a2a" stroke="none" stroke-width="1.0" />
<polyline points="617.4,323.7 617.4,304.8 643.5,304.8 643.5,310.6" fill="none" stroke="#3a3a3a" stroke-width="1.2"/>
<text x="630.60" y="305.86" font-size="10.5" text-anchor="middle" fill="#1a1a1a" font-weight="bold" textLength="3.99" lengthAdjust="spacingAndGlyphs" stroke="#1a1a1a" stroke-width="0.18" >*</text>
<text x="615.80" y="407.40" font-size="7.8" text-anchor="middle" fill="#111" font-weight="bold" textLength="23" lengthAdjust="spacingAndGlyphs" stroke="#111" stroke-width="0.18" >EMPTY</text>
<text x="641.20" y="407.40" font-size="7.8" text-anchor="middle" fill="#111" font-weight="bold" textLength="20.4" lengthAdjust="spacingAndGlyphs" stroke="#111" stroke-width="0.18" >AMPK</text>
<text x="630.40" y="283.80" font-size="9.4" text-anchor="middle" fill="#1a1a1a" textLength="21.8" lengthAdjust="spacingAndGlyphs" stroke="#1a1a1a" stroke-width="0.22" >CD4+</text>
<line x1="619.60" y1="285.30" x2="641.20" y2="285.30" stroke="#a0a0a0" stroke-width="1.2" />
<text x="574.60" y="350.50" font-size="8.2" text-anchor="middle" fill="#222" font-weight="bold" textLength="43.5" lengthAdjust="spacingAndGlyphs" transform="rotate(-90 574.60 350.50)" stroke="#222" stroke-width="0.18" >CD107A MFI</text>
<line x1="699.00" y1="304.80" x2="699.00" y2="396.40" stroke="#111" stroke-width="1.1" />
<line x1="699.00" y1="396.40" x2="761.90" y2="396.40" stroke="#111" stroke-width="1.1" />
<line x1="695.20" y1="396.40" x2="699.00" y2="396.40" stroke="#111" stroke-width="1.0" />
<text x="694.70" y="398.99" font-size="7.2" text-anchor="end" fill="#111" font-weight="bold" stroke="#111" stroke-width="0.05">0</text>
<line x1="695.20" y1="365.87" x2="699.00" y2="365.87" stroke="#111" stroke-width="1.0" />
<text x="694.70" y="368.46" font-size="7.2" text-anchor="end" fill="#111" font-weight="bold" stroke="#111" stroke-width="0.05">1000</text>
<line x1="695.20" y1="335.33" x2="699.00" y2="335.33" stroke="#111" stroke-width="1.0" />
<text x="694.70" y="337.93" font-size="7.2" text-anchor="end" fill="#111" font-weight="bold" stroke="#111" stroke-width="0.05">2000</text>
<line x1="695.20" y1="304.80" x2="699.00" y2="304.80" stroke="#111" stroke-width="1.0" />
<text x="694.70" y="307.39" font-size="7.2" text-anchor="end" fill="#111" font-weight="bold" stroke="#111" stroke-width="0.05">3000</text>
<rect x="709.00" y="344.90" width="15.90" height="51.50" fill="#fff" stroke="#1a1a1a" stroke-width="1.6" />
<line x1="716.95" y1="396.40" x2="716.95" y2="399.80" stroke="#111" stroke-width="1" />
<line x1="716.95" y1="330.20" x2="716.95" y2="357.70" stroke="#9ccaf5" stroke-width="0.9" />
<line x1="712.75" y1="330.20" x2="721.15" y2="330.20" stroke="#9ccaf5" stroke-width="0.9" />
<line x1="712.75" y1="357.70" x2="721.15" y2="357.70" stroke="#9ccaf5" stroke-width="0.9" />
<circle cx="714.00" cy="336.00" r="1.6" fill="#5aa9f0"/>
<circle cx="720.00" cy="336.00" r="1.6" fill="#5aa9f0"/>
<circle cx="717.40" cy="359.80" r="1.6" fill="#5aa9f0"/>
<rect x="735.20" y="335.50" width="15.90" height="60.90" fill="#fff" stroke="#1a1a1a" stroke-width="1.6" />
<line x1="743.15" y1="396.40" x2="743.15" y2="399.80" stroke="#111" stroke-width="1" />
<line x1="743.15" y1="310.60" x2="743.15" y2="358.50" stroke="#f08080" stroke-width="0.9" />
<line x1="738.95" y1="310.60" x2="747.35" y2="310.60" stroke="#f08080" stroke-width="0.9" />
<line x1="738.95" y1="358.50" x2="747.35" y2="358.50" stroke="#f08080" stroke-width="0.9" />
<rect x="741.40" y="313.50" width="3.00" height="3.00" fill="#e82a2a" stroke="none" stroke-width="1.0" />
<rect x="741.40" y="324.80" width="3.00" height="3.00" fill="#e82a2a" stroke="none" stroke-width="1.0" />
<rect x="741.40" y="359.60" width="3.00" height="3.00" fill="#e82a2a" stroke="none" stroke-width="1.0" />
<polyline points="717.4,324.5 717.4,299.6 742.9,299.6 742.9,304.8" fill="none" stroke="#3a3a3a" stroke-width="1.2"/>
<text x="729.10" y="295.20" font-size="7.5" text-anchor="middle" fill="#222" textLength="7.3" lengthAdjust="spacingAndGlyphs" stroke="#222" stroke-width="0.22" >ns</text>
<text x="715.50" y="407.40" font-size="7.8" text-anchor="middle" fill="#111" font-weight="bold" textLength="23.6" lengthAdjust="spacingAndGlyphs" stroke="#111" stroke-width="0.18" >EMPTY</text>
<text x="740.90" y="407.40" font-size="7.8" text-anchor="middle" fill="#111" font-weight="bold" textLength="21" lengthAdjust="spacingAndGlyphs" stroke="#111" stroke-width="0.18" >AMPK</text>
<text x="729.80" y="283.80" font-size="9.4" text-anchor="middle" fill="#1a1a1a" textLength="21.8" lengthAdjust="spacingAndGlyphs" stroke="#1a1a1a" stroke-width="0.22" >CD8+</text>
<line x1="718.80" y1="285.30" x2="740.60" y2="285.30" stroke="#a0a0a0" stroke-width="1.2" />
<text x="674.60" y="350.00" font-size="8.2" text-anchor="middle" fill="#222" font-weight="bold" textLength="43.5" lengthAdjust="spacingAndGlyphs" transform="rotate(-90 674.60 350.00)" stroke="#222" stroke-width="0.18" >CD107A MFI</text>
<rect x="359.40" y="412.30" width="90.40" height="90.20" fill="none" stroke="#777" stroke-width="1.0" />
<line x1="359.40" y1="412.30" x2="359.40" y2="502.50" stroke="#555" stroke-width="1.0" />
<line x1="356.90" y1="502.50" x2="359.40" y2="502.50" stroke="#444" stroke-width="0.6" />
<text x="356.20" y="503.70" font-size="3.4" text-anchor="end" fill="#555" >0</text>
<line x1="358.10" y1="498.19" x2="359.40" y2="498.19" stroke="#444" stroke-width="0.6" />
<line x1="358.10" y1="493.87" x2="359.40" y2="493.87" stroke="#444" stroke-width="0.6" />
<line x1="358.10" y1="489.56" x2="359.40" y2="489.56" stroke="#444" stroke-width="0.6" />
<line x1="356.90" y1="485.24" x2="359.40" y2="485.24" stroke="#444" stroke-width="0.6" />
<text x="356.20" y="486.44" font-size="3.4" text-anchor="end" fill="#555" >20</text>
<line x1="358.10" y1="480.93" x2="359.40" y2="480.93" stroke="#444" stroke-width="0.6" />
<line x1="358.10" y1="476.61" x2="359.40" y2="476.61" stroke="#444" stroke-width="0.6" />
<line x1="358.10" y1="472.30" x2="359.40" y2="472.30" stroke="#444" stroke-width="0.6" />
<line x1="356.90" y1="467.98" x2="359.40" y2="467.98" stroke="#444" stroke-width="0.6" />
<text x="356.20" y="469.18" font-size="3.4" text-anchor="end" fill="#555" >40</text>
<line x1="358.10" y1="463.66" x2="359.40" y2="463.66" stroke="#444" stroke-width="0.6" />
<line x1="358.10" y1="459.35" x2="359.40" y2="459.35" stroke="#444" stroke-width="0.6" />
<line x1="358.10" y1="455.03" x2="359.40" y2="455.03" stroke="#444" stroke-width="0.6" />
<line x1="356.90" y1="450.72" x2="359.40" y2="450.72" stroke="#444" stroke-width="0.6" />
<text x="356.20" y="451.92" font-size="3.4" text-anchor="end" fill="#555" >60</text>
<line x1="358.10" y1="446.40" x2="359.40" y2="446.40" stroke="#444" stroke-width="0.6" />
<line x1="358.10" y1="442.09" x2="359.40" y2="442.09" stroke="#444" stroke-width="0.6" />
<line x1="358.10" y1="437.77" x2="359.40" y2="437.77" stroke="#444" stroke-width="0.6" />
<line x1="356.90" y1="433.46" x2="359.40" y2="433.46" stroke="#444" stroke-width="0.6" />
<text x="356.20" y="434.66" font-size="3.4" text-anchor="end" fill="#555" >80</text>
<line x1="358.10" y1="429.14" x2="359.40" y2="429.14" stroke="#444" stroke-width="0.6" />
<line x1="358.10" y1="424.83" x2="359.40" y2="424.83" stroke="#444" stroke-width="0.6" />
<line x1="358.10" y1="420.51" x2="359.40" y2="420.51" stroke="#444" stroke-width="0.6" />
<line x1="356.90" y1="416.20" x2="359.40" y2="416.20" stroke="#444" stroke-width="0.6" />
<text x="356.20" y="417.40" font-size="3.4" text-anchor="end" fill="#555" >100</text>
<line x1="367.20" y1="502.50" x2="367.20" y2="504.50" stroke="#444" stroke-width="0.6" />
<line x1="381.80" y1="502.50" x2="381.80" y2="504.50" stroke="#444" stroke-width="0.6" />
<line x1="397.00" y1="502.50" x2="397.00" y2="504.50" stroke="#444" stroke-width="0.6" />
<line x1="421.40" y1="502.50" x2="421.40" y2="504.50" stroke="#444" stroke-width="0.6" />
<line x1="444.40" y1="502.50" x2="444.40" y2="504.50" stroke="#444" stroke-width="0.6" />
<text x="367.20" y="509.80" font-size="3.6" text-anchor="middle" fill="#555" >-10²</text>
<text x="381.80" y="509.80" font-size="3.6" text-anchor="middle" fill="#555" >0</text>
<text x="397.00" y="509.80" font-size="3.6" text-anchor="middle" fill="#555" >10³</text>
<text x="421.40" y="509.80" font-size="3.6" text-anchor="middle" fill="#555" >10⁴</text>
<text x="444.40" y="509.80" font-size="3.6" text-anchor="middle" fill="#555" >10⁵</text>
<line x1="369.40" y1="502.50" x2="369.40" y2="503.50" stroke="#555" stroke-width="0.5" />
<line x1="371.40" y1="502.50" x2="371.40" y2="503.50" stroke="#555" stroke-width="0.5" />
<line x1="373.40" y1="502.50" x2="373.40" y2="503.50" stroke="#555" stroke-width="0.5" />
<line x1="384.40" y1="502.50" x2="384.40" y2="503.50" stroke="#555" stroke-width="0.5" />
<line x1="386.40" y1="502.50" x2="386.40" y2="503.50" stroke="#555" stroke-width="0.5" />
<line x1="389.40" y1="502.50" x2="389.40" y2="503.50" stroke="#555" stroke-width="0.5" />
<line x1="399.40" y1="502.50" x2="399.40" y2="503.50" stroke="#555" stroke-width="0.5" />
<line x1="404.40" y1="502.50" x2="404.40" y2="503.50" stroke="#555" stroke-width="0.5" />
<line x1="409.40" y1="502.50" x2="409.40" y2="503.50" stroke="#555" stroke-width="0.5" />
<line x1="414.40" y1="502.50" x2="414.40" y2="503.50" stroke="#555" stroke-width="0.5" />
<line x1="424.40" y1="502.50" x2="424.40" y2="503.50" stroke="#555" stroke-width="0.5" />
<line x1="429.40" y1="502.50" x2="429.40" y2="503.50" stroke="#555" stroke-width="0.5" />
<line x1="434.40" y1="502.50" x2="434.40" y2="503.50" stroke="#555" stroke-width="0.5" />
<line x1="439.40" y1="502.50" x2="439.40" y2="503.50" stroke="#555" stroke-width="0.5" />
<rect x="380.20" y="502.00" width="3.20" height="1.60" fill="#222" stroke="none" stroke-width="1.0" />
<line x1="359.90" y1="501.90" x2="449.30" y2="501.90" stroke="#3fd3f3" stroke-width="1.2" />
<polyline points="384.8,502.5 386.5,419.0 387.4,423.3 390.1,441.0 392.8,456.2 394.2,451.7 396.0,461.5 398.1,466.8 400.4,461.5 402.5,464.1 405.2,473.0 408.7,475.7 412.3,484.6 416.7,493.4 421.2,498.8 425.6,502.5" fill="none" stroke="#ee2a2a" stroke-width="1.5" stroke-linejoin="round"/>
<polyline points="384.8,502.5 386.5,418.0 388.3,440.2 390.1,461.5 392.8,466.8 396.3,476.6 399.9,484.6 404.3,490.8 409.6,497.0 415.0,501.4 421.2,502.5" fill="none" stroke="#3fd3f3" stroke-width="1.5" stroke-linejoin="round"/>
<line x1="359.40" y1="502.50" x2="449.80" y2="502.50" stroke="#555" stroke-width="0.5" />
<text x="414.80" y="435.40" font-size="9.3" text-anchor="start" fill="#ee2a2a" textLength="21.2" lengthAdjust="spacingAndGlyphs" stroke="#ee2a2a" stroke-width="0.22" >AMPK</text>
<text x="414.80" y="443.30" font-size="9.3" text-anchor="start" fill="#3fd3f3" textLength="8.8" lengthAdjust="spacingAndGlyphs" stroke="#3fd3f3" stroke-width="0.22" >EV</text>
<rect x="464.70" y="412.50" width="91.00" height="89.90" fill="none" stroke="#777" stroke-width="1.0" />
<line x1="464.70" y1="412.50" x2="464.70" y2="502.40" stroke="#555" stroke-width="1.0" />
<line x1="462.20" y1="502.40" x2="464.70" y2="502.40" stroke="#444" stroke-width="0.6" />
<text x="461.50" y="503.60" font-size="3.4" text-anchor="end" fill="#555" >0</text>
<line x1="463.40" y1="498.10" x2="464.70" y2="498.10" stroke="#444" stroke-width="0.6" />
<line x1="463.40" y1="493.80" x2="464.70" y2="493.80" stroke="#444" stroke-width="0.6" />
<line x1="463.40" y1="489.50" x2="464.70" y2="489.50" stroke="#444" stroke-width="0.6" />
<line x1="462.20" y1="485.20" x2="464.70" y2="485.20" stroke="#444" stroke-width="0.6" />
<text x="461.50" y="486.40" font-size="3.4" text-anchor="end" fill="#555" >20</text>
<line x1="463.40" y1="480.90" x2="464.70" y2="480.90" stroke="#444" stroke-width="0.6" />
<line x1="463.40" y1="476.60" x2="464.70" y2="476.60" stroke="#444" stroke-width="0.6" />
<line x1="463.40" y1="472.30" x2="464.70" y2="472.30" stroke="#444" stroke-width="0.6" />
<line x1="462.20" y1="468.00" x2="464.70" y2="468.00" stroke="#444" stroke-width="0.6" />
<text x="461.50" y="469.20" font-size="3.4" text-anchor="end" fill="#555" >40</text>
<line x1="463.40" y1="463.70" x2="464.70" y2="463.70" stroke="#444" stroke-width="0.6" />
<line x1="463.40" y1="459.40" x2="464.70" y2="459.40" stroke="#444" stroke-width="0.6" />
<line x1="463.40" y1="455.10" x2="464.70" y2="455.10" stroke="#444" stroke-width="0.6" />
<line x1="462.20" y1="450.80" x2="464.70" y2="450.80" stroke="#444" stroke-width="0.6" />
<text x="461.50" y="452.00" font-size="3.4" text-anchor="end" fill="#555" >60</text>
<line x1="463.40" y1="446.50" x2="464.70" y2="446.50" stroke="#444" stroke-width="0.6" />
<line x1="463.40" y1="442.20" x2="464.70" y2="442.20" stroke="#444" stroke-width="0.6" />
<line x1="463.40" y1="437.90" x2="464.70" y2="437.90" stroke="#444" stroke-width="0.6" />
<line x1="462.20" y1="433.60" x2="464.70" y2="433.60" stroke="#444" stroke-width="0.6" />
<text x="461.50" y="434.80" font-size="3.4" text-anchor="end" fill="#555" >80</text>
<line x1="463.40" y1="429.30" x2="464.70" y2="429.30" stroke="#444" stroke-width="0.6" />
<line x1="463.40" y1="425.00" x2="464.70" y2="425.00" stroke="#444" stroke-width="0.6" />
<line x1="463.40" y1="420.70" x2="464.70" y2="420.70" stroke="#444" stroke-width="0.6" />
<line x1="462.20" y1="416.40" x2="464.70" y2="416.40" stroke="#444" stroke-width="0.6" />
<text x="461.50" y="417.60" font-size="3.4" text-anchor="end" fill="#555" >100</text>
<line x1="472.50" y1="502.40" x2="472.50" y2="504.40" stroke="#444" stroke-width="0.6" />
<line x1="487.10" y1="502.40" x2="487.10" y2="504.40" stroke="#444" stroke-width="0.6" />
<line x1="502.30" y1="502.40" x2="502.30" y2="504.40" stroke="#444" stroke-width="0.6" />
<line x1="526.70" y1="502.40" x2="526.70" y2="504.40" stroke="#444" stroke-width="0.6" />
<line x1="549.70" y1="502.40" x2="549.70" y2="504.40" stroke="#444" stroke-width="0.6" />
<text x="472.50" y="509.70" font-size="3.6" text-anchor="middle" fill="#555" >-10²</text>
<text x="487.10" y="509.70" font-size="3.6" text-anchor="middle" fill="#555" >0</text>
<text x="502.30" y="509.70" font-size="3.6" text-anchor="middle" fill="#555" >10³</text>
<text x="526.70" y="509.70" font-size="3.6" text-anchor="middle" fill="#555" >10⁴</text>
<text x="549.70" y="509.70" font-size="3.6" text-anchor="middle" fill="#555" >10⁵</text>
<line x1="474.70" y1="502.40" x2="474.70" y2="503.40" stroke="#555" stroke-width="0.5" />
<line x1="476.70" y1="502.40" x2="476.70" y2="503.40" stroke="#555" stroke-width="0.5" />
<line x1="478.70" y1="502.40" x2="478.70" y2="503.40" stroke="#555" stroke-width="0.5" />
<line x1="489.70" y1="502.40" x2="489.70" y2="503.40" stroke="#555" stroke-width="0.5" />
<line x1="491.70" y1="502.40" x2="491.70" y2="503.40" stroke="#555" stroke-width="0.5" />
<line x1="494.70" y1="502.40" x2="494.70" y2="503.40" stroke="#555" stroke-width="0.5" />
<line x1="504.70" y1="502.40" x2="504.70" y2="503.40" stroke="#555" stroke-width="0.5" />
<line x1="509.70" y1="502.40" x2="509.70" y2="503.40" stroke="#555" stroke-width="0.5" />
<line x1="514.70" y1="502.40" x2="514.70" y2="503.40" stroke="#555" stroke-width="0.5" />
<line x1="519.70" y1="502.40" x2="519.70" y2="503.40" stroke="#555" stroke-width="0.5" />
<line x1="529.70" y1="502.40" x2="529.70" y2="503.40" stroke="#555" stroke-width="0.5" />
<line x1="534.70" y1="502.40" x2="534.70" y2="503.40" stroke="#555" stroke-width="0.5" />
<line x1="539.70" y1="502.40" x2="539.70" y2="503.40" stroke="#555" stroke-width="0.5" />
<line x1="544.70" y1="502.40" x2="544.70" y2="503.40" stroke="#555" stroke-width="0.5" />
<rect x="485.50" y="501.90" width="3.20" height="1.60" fill="#222" stroke="none" stroke-width="1.0" />
<line x1="465.20" y1="501.80" x2="555.20" y2="501.80" stroke="#3fd3f3" stroke-width="1.2" />
<polyline points="489.8,502.4 491.9,440.5 493.3,441.9 495.4,465.0 497.5,478.4 502.4,488.9 509.4,498.7 519.3,502.4" fill="none" stroke="#ee2a2a" stroke-width="1.5" stroke-linejoin="round"/>
<polyline points="489.8,502.4 491.9,440.1 494.0,458.0 495.4,470.7 497.5,481.9 501.0,491.7 508.0,498.7 516.4,502.2 522.0,502.4" fill="none" stroke="#3fd3f3" stroke-width="1.5" stroke-linejoin="round"/>
<line x1="464.70" y1="502.40" x2="555.70" y2="502.40" stroke="#555" stroke-width="0.5" />
<text x="527.70" y="435.10" font-size="9.3" text-anchor="start" fill="#ee2a2a" textLength="21.2" lengthAdjust="spacingAndGlyphs" stroke="#ee2a2a" stroke-width="0.22" >AMPK</text>
<text x="527.70" y="443.00" font-size="9.3" text-anchor="start" fill="#3fd3f3" textLength="8.8" lengthAdjust="spacingAndGlyphs" stroke="#3fd3f3" stroke-width="0.22" >EV</text>
<circle cx="555.5" cy="501" r="1.2" fill="#ee2a2a"/>
<rect x="578.20" y="413.60" width="91.40" height="90.80" fill="none" stroke="#777" stroke-width="1.0" />
<line x1="578.20" y1="413.60" x2="578.20" y2="504.40" stroke="#555" stroke-width="1.0" />
<line x1="575.70" y1="504.40" x2="578.20" y2="504.40" stroke="#444" stroke-width="0.6" />
<text x="575.00" y="505.60" font-size="3.4" text-anchor="end" fill="#555" >0</text>
<line x1="576.90" y1="500.05" x2="578.20" y2="500.05" stroke="#444" stroke-width="0.6" />
<line x1="576.90" y1="495.71" x2="578.20" y2="495.71" stroke="#444" stroke-width="0.6" />
<line x1="576.90" y1="491.37" x2="578.20" y2="491.37" stroke="#444" stroke-width="0.6" />
<line x1="575.70" y1="487.02" x2="578.20" y2="487.02" stroke="#444" stroke-width="0.6" />
<text x="575.00" y="488.22" font-size="3.4" text-anchor="end" fill="#555" >20</text>
<line x1="576.90" y1="482.67" x2="578.20" y2="482.67" stroke="#444" stroke-width="0.6" />
<line x1="576.90" y1="478.33" x2="578.20" y2="478.33" stroke="#444" stroke-width="0.6" />
<line x1="576.90" y1="473.99" x2="578.20" y2="473.99" stroke="#444" stroke-width="0.6" />
<line x1="575.70" y1="469.64" x2="578.20" y2="469.64" stroke="#444" stroke-width="0.6" />
<text x="575.00" y="470.84" font-size="3.4" text-anchor="end" fill="#555" >40</text>
<line x1="576.90" y1="465.29" x2="578.20" y2="465.29" stroke="#444" stroke-width="0.6" />
<line x1="576.90" y1="460.95" x2="578.20" y2="460.95" stroke="#444" stroke-width="0.6" />
<line x1="576.90" y1="456.61" x2="578.20" y2="456.61" stroke="#444" stroke-width="0.6" />
<line x1="575.70" y1="452.26" x2="578.20" y2="452.26" stroke="#444" stroke-width="0.6" />
<text x="575.00" y="453.46" font-size="3.4" text-anchor="end" fill="#555" >60</text>
<line x1="576.90" y1="447.91" x2="578.20" y2="447.91" stroke="#444" stroke-width="0.6" />
<line x1="576.90" y1="443.57" x2="578.20" y2="443.57" stroke="#444" stroke-width="0.6" />
<line x1="576.90" y1="439.23" x2="578.20" y2="439.23" stroke="#444" stroke-width="0.6" />
<line x1="575.70" y1="434.88" x2="578.20" y2="434.88" stroke="#444" stroke-width="0.6" />
<text x="575.00" y="436.08" font-size="3.4" text-anchor="end" fill="#555" >80</text>
<line x1="576.90" y1="430.53" x2="578.20" y2="430.53" stroke="#444" stroke-width="0.6" />
<line x1="576.90" y1="426.19" x2="578.20" y2="426.19" stroke="#444" stroke-width="0.6" />
<line x1="576.90" y1="421.85" x2="578.20" y2="421.85" stroke="#444" stroke-width="0.6" />
<line x1="575.70" y1="417.50" x2="578.20" y2="417.50" stroke="#444" stroke-width="0.6" />
<text x="575.00" y="418.70" font-size="3.4" text-anchor="end" fill="#555" >100</text>
<line x1="586.00" y1="504.40" x2="586.00" y2="506.40" stroke="#444" stroke-width="0.6" />
<line x1="600.60" y1="504.40" x2="600.60" y2="506.40" stroke="#444" stroke-width="0.6" />
<line x1="615.80" y1="504.40" x2="615.80" y2="506.40" stroke="#444" stroke-width="0.6" />
<line x1="640.20" y1="504.40" x2="640.20" y2="506.40" stroke="#444" stroke-width="0.6" />
<line x1="663.20" y1="504.40" x2="663.20" y2="506.40" stroke="#444" stroke-width="0.6" />
<text x="586.00" y="511.70" font-size="3.6" text-anchor="middle" fill="#555" >-10²</text>
<text x="600.60" y="511.70" font-size="3.6" text-anchor="middle" fill="#555" >0</text>
<text x="615.80" y="511.70" font-size="3.6" text-anchor="middle" fill="#555" >10³</text>
<text x="640.20" y="511.70" font-size="3.6" text-anchor="middle" fill="#555" >10⁴</text>
<text x="663.20" y="511.70" font-size="3.6" text-anchor="middle" fill="#555" >10⁵</text>
<line x1="588.20" y1="504.40" x2="588.20" y2="505.40" stroke="#555" stroke-width="0.5" />
<line x1="590.20" y1="504.40" x2="590.20" y2="505.40" stroke="#555" stroke-width="0.5" />
<line x1="592.20" y1="504.40" x2="592.20" y2="505.40" stroke="#555" stroke-width="0.5" />
<line x1="603.20" y1="504.40" x2="603.20" y2="505.40" stroke="#555" stroke-width="0.5" />
<line x1="605.20" y1="504.40" x2="605.20" y2="505.40" stroke="#555" stroke-width="0.5" />
<line x1="608.20" y1="504.40" x2="608.20" y2="505.40" stroke="#555" stroke-width="0.5" />
<line x1="618.20" y1="504.40" x2="618.20" y2="505.40" stroke="#555" stroke-width="0.5" />
<line x1="623.20" y1="504.40" x2="623.20" y2="505.40" stroke="#555" stroke-width="0.5" />
<line x1="628.20" y1="504.40" x2="628.20" y2="505.40" stroke="#555" stroke-width="0.5" />
<line x1="633.20" y1="504.40" x2="633.20" y2="505.40" stroke="#555" stroke-width="0.5" />
<line x1="643.20" y1="504.40" x2="643.20" y2="505.40" stroke="#555" stroke-width="0.5" />
<line x1="648.20" y1="504.40" x2="648.20" y2="505.40" stroke="#555" stroke-width="0.5" />
<line x1="653.20" y1="504.40" x2="653.20" y2="505.40" stroke="#555" stroke-width="0.5" />
<line x1="658.20" y1="504.40" x2="658.20" y2="505.40" stroke="#555" stroke-width="0.5" />
<rect x="599.00" y="503.90" width="3.20" height="1.60" fill="#222" stroke="none" stroke-width="1.0" />
<line x1="578.70" y1="503.80" x2="669.10" y2="503.80" stroke="#3fd3f3" stroke-width="1.2" />
<polyline points="599.8,504.4 604.2,482.5 607.8,462.9 609.5,447.8 612.2,434.5 613.1,431.0 614.9,439.0 617.5,441.6 619.3,446.1 621.1,462.9 622.8,466.5 625.5,478.9 629.1,494.9 632.6,497.6 637.9,502.0 643.3,504.4" fill="none" stroke="#ee2a2a" stroke-width="1.5" stroke-linejoin="round"/>
<polyline points="598.9,504.4 601.5,489.6 603.3,468.3 605.6,438.1 607.2,423.0 609.2,422.1 611.3,427.4 614.0,435.4 615.7,450.5 617.5,468.3 619.3,475.4 622.8,486.0 626.4,494.9 630.8,500.2 636.2,504.4" fill="none" stroke="#3fd3f3" stroke-width="1.5" stroke-linejoin="round"/>
<line x1="578.20" y1="504.40" x2="669.60" y2="504.40" stroke="#555" stroke-width="0.5" />
<text x="633.50" y="436.80" font-size="9.3" text-anchor="start" fill="#ee2a2a" textLength="21.2" lengthAdjust="spacingAndGlyphs" stroke="#ee2a2a" stroke-width="0.22" >AMPK</text>
<text x="633.50" y="444.70" font-size="9.3" text-anchor="start" fill="#3fd3f3" textLength="8.8" lengthAdjust="spacingAndGlyphs" stroke="#3fd3f3" stroke-width="0.22" >EV</text>
<rect x="684.50" y="414.00" width="91.40" height="89.90" fill="none" stroke="#777" stroke-width="1.0" />
<line x1="684.50" y1="414.00" x2="684.50" y2="503.90" stroke="#555" stroke-width="1.0" />
<line x1="682.00" y1="503.90" x2="684.50" y2="503.90" stroke="#444" stroke-width="0.6" />
<text x="681.30" y="505.10" font-size="3.4" text-anchor="end" fill="#555" >0</text>
<line x1="683.20" y1="499.60" x2="684.50" y2="499.60" stroke="#444" stroke-width="0.6" />
<line x1="683.20" y1="495.30" x2="684.50" y2="495.30" stroke="#444" stroke-width="0.6" />
<line x1="683.20" y1="491.00" x2="684.50" y2="491.00" stroke="#444" stroke-width="0.6" />
<line x1="682.00" y1="486.70" x2="684.50" y2="486.70" stroke="#444" stroke-width="0.6" />
<text x="681.30" y="487.90" font-size="3.4" text-anchor="end" fill="#555" >20</text>
<line x1="683.20" y1="482.40" x2="684.50" y2="482.40" stroke="#444" stroke-width="0.6" />
<line x1="683.20" y1="478.10" x2="684.50" y2="478.10" stroke="#444" stroke-width="0.6" />
<line x1="683.20" y1="473.80" x2="684.50" y2="473.80" stroke="#444" stroke-width="0.6" />
<line x1="682.00" y1="469.50" x2="684.50" y2="469.50" stroke="#444" stroke-width="0.6" />
<text x="681.30" y="470.70" font-size="3.4" text-anchor="end" fill="#555" >40</text>
<line x1="683.20" y1="465.20" x2="684.50" y2="465.20" stroke="#444" stroke-width="0.6" />
<line x1="683.20" y1="460.90" x2="684.50" y2="460.90" stroke="#444" stroke-width="0.6" />
<line x1="683.20" y1="456.60" x2="684.50" y2="456.60" stroke="#444" stroke-width="0.6" />
<line x1="682.00" y1="452.30" x2="684.50" y2="452.30" stroke="#444" stroke-width="0.6" />
<text x="681.30" y="453.50" font-size="3.4" text-anchor="end" fill="#555" >60</text>
<line x1="683.20" y1="448.00" x2="684.50" y2="448.00" stroke="#444" stroke-width="0.6" />
<line x1="683.20" y1="443.70" x2="684.50" y2="443.70" stroke="#444" stroke-width="0.6" />
<line x1="683.20" y1="439.40" x2="684.50" y2="439.40" stroke="#444" stroke-width="0.6" />
<line x1="682.00" y1="435.10" x2="684.50" y2="435.10" stroke="#444" stroke-width="0.6" />
<text x="681.30" y="436.30" font-size="3.4" text-anchor="end" fill="#555" >80</text>
<line x1="683.20" y1="430.80" x2="684.50" y2="430.80" stroke="#444" stroke-width="0.6" />
<line x1="683.20" y1="426.50" x2="684.50" y2="426.50" stroke="#444" stroke-width="0.6" />
<line x1="683.20" y1="422.20" x2="684.50" y2="422.20" stroke="#444" stroke-width="0.6" />
<line x1="682.00" y1="417.90" x2="684.50" y2="417.90" stroke="#444" stroke-width="0.6" />
<text x="681.30" y="419.10" font-size="3.4" text-anchor="end" fill="#555" >100</text>
<line x1="692.30" y1="503.90" x2="692.30" y2="505.90" stroke="#444" stroke-width="0.6" />
<line x1="706.90" y1="503.90" x2="706.90" y2="505.90" stroke="#444" stroke-width="0.6" />
<line x1="722.10" y1="503.90" x2="722.10" y2="505.90" stroke="#444" stroke-width="0.6" />
<line x1="746.50" y1="503.90" x2="746.50" y2="505.90" stroke="#444" stroke-width="0.6" />
<line x1="769.50" y1="503.90" x2="769.50" y2="505.90" stroke="#444" stroke-width="0.6" />
<text x="692.30" y="511.20" font-size="3.6" text-anchor="middle" fill="#555" >-10²</text>
<text x="706.90" y="511.20" font-size="3.6" text-anchor="middle" fill="#555" >0</text>
<text x="722.10" y="511.20" font-size="3.6" text-anchor="middle" fill="#555" >10³</text>
<text x="746.50" y="511.20" font-size="3.6" text-anchor="middle" fill="#555" >10⁴</text>
<text x="769.50" y="511.20" font-size="3.6" text-anchor="middle" fill="#555" >10⁵</text>
<line x1="694.50" y1="503.90" x2="694.50" y2="504.90" stroke="#555" stroke-width="0.5" />
<line x1="696.50" y1="503.90" x2="696.50" y2="504.90" stroke="#555" stroke-width="0.5" />
<line x1="698.50" y1="503.90" x2="698.50" y2="504.90" stroke="#555" stroke-width="0.5" />
<line x1="709.50" y1="503.90" x2="709.50" y2="504.90" stroke="#555" stroke-width="0.5" />
<line x1="711.50" y1="503.90" x2="711.50" y2="504.90" stroke="#555" stroke-width="0.5" />
<line x1="714.50" y1="503.90" x2="714.50" y2="504.90" stroke="#555" stroke-width="0.5" />
<line x1="724.50" y1="503.90" x2="724.50" y2="504.90" stroke="#555" stroke-width="0.5" />
<line x1="729.50" y1="503.90" x2="729.50" y2="504.90" stroke="#555" stroke-width="0.5" />
<line x1="734.50" y1="503.90" x2="734.50" y2="504.90" stroke="#555" stroke-width="0.5" />
<line x1="739.50" y1="503.90" x2="739.50" y2="504.90" stroke="#555" stroke-width="0.5" />
<line x1="749.50" y1="503.90" x2="749.50" y2="504.90" stroke="#555" stroke-width="0.5" />
<line x1="754.50" y1="503.90" x2="754.50" y2="504.90" stroke="#555" stroke-width="0.5" />
<line x1="759.50" y1="503.90" x2="759.50" y2="504.90" stroke="#555" stroke-width="0.5" />
<line x1="764.50" y1="503.90" x2="764.50" y2="504.90" stroke="#555" stroke-width="0.5" />
<rect x="705.30" y="503.40" width="3.20" height="1.60" fill="#222" stroke="none" stroke-width="1.0" />
<line x1="685.00" y1="503.30" x2="775.40" y2="503.30" stroke="#3fd3f3" stroke-width="1.2" />
<polyline points="704.5,503.9 708.3,482.5 711.0,455.8 713.6,441.6 715.1,432.8 716.3,439.9 717.7,437.2 719.0,439.9 720.7,438.1 722.5,443.4 724.3,439.9 726.1,447.8 727.8,461.2 730.5,470.0 733.2,475.4 735.8,472.7 738.5,480.7 741.2,489.6 744.7,498.4 747.4,503.9" fill="none" stroke="#ee2a2a" stroke-width="1.5" stroke-linejoin="round"/>
<polyline points="703.9,503.9 707.4,486.0 710.1,459.4 712.4,434.5 713.6,423.0 714.9,427.4 716.3,423.0 718.1,425.7 719.9,424.8 721.6,429.2 723.4,436.3 726.1,441.6 727.5,441.0 729.6,450.5 732.3,455.8 735.0,462.0 737.6,471.8 740.3,480.7 742.9,489.6 746.5,499.3 750.0,503.9" fill="none" stroke="#3fd3f3" stroke-width="1.5" stroke-linejoin="round"/>
<line x1="684.50" y1="503.90" x2="775.90" y2="503.90" stroke="#555" stroke-width="0.5" />
<text x="746.20" y="436.80" font-size="9.3" text-anchor="start" fill="#ee2a2a" textLength="21.2" lengthAdjust="spacingAndGlyphs" stroke="#ee2a2a" stroke-width="0.22" >AMPK</text>
<text x="746.20" y="444.70" font-size="9.3" text-anchor="start" fill="#3fd3f3" textLength="8.8" lengthAdjust="spacingAndGlyphs" stroke="#3fd3f3" stroke-width="0.22" >EV</text>
<line x1="357.90" y1="522.20" x2="434.90" y2="522.20" stroke="#111" stroke-width="1.1" />
<line x1="478.30" y1="522.20" x2="552.70" y2="522.20" stroke="#111" stroke-width="1.1" />
<path d="M556.7,522.2 L551.2,519.9000000000001 L551.2,524.5 Z" fill="#111"/>
<rect x="434.90" y="514.20" width="43.40" height="16.90" fill="#fff" stroke="#111" stroke-width="1.3" />
<text x="456.60" y="526.00" font-size="9.8" text-anchor="middle" fill="#111" font-weight="bold" textLength="20.3" lengthAdjust="spacingAndGlyphs" stroke="#111" stroke-width="0.18" >TNFa</text>
<line x1="576.50" y1="524.60" x2="653.70" y2="524.60" stroke="#111" stroke-width="1.1" />
<line x1="696.80" y1="524.60" x2="771.80" y2="524.60" stroke="#111" stroke-width="1.1" />
<path d="M775.8,524.6 L770.3,522.3000000000001 L770.3,526.9 Z" fill="#111"/>
<rect x="653.70" y="516.40" width="43.10" height="16.90" fill="#fff" stroke="#111" stroke-width="1.3" />
<text x="675.25" y="528.60" font-size="10.5" text-anchor="middle" fill="#111" font-weight="bold" textLength="32.7" lengthAdjust="spacingAndGlyphs" stroke="#111" stroke-width="0.18" >CD107A</text>
</svg></body></html>
